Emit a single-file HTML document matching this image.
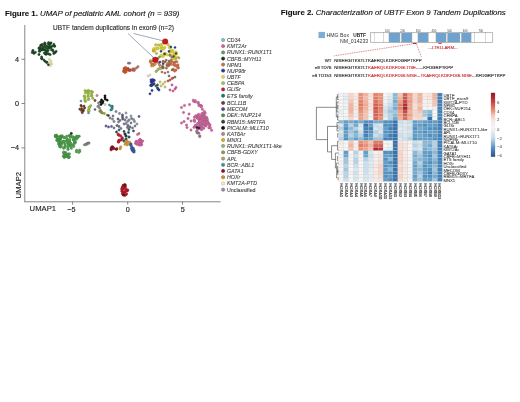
<!DOCTYPE html>
<html><head><meta charset="utf-8"><style>
html,body{margin:0;padding:0;background:#fff;width:520px;height:402px;overflow:hidden}
svg{display:block;font-family:"Liberation Sans",sans-serif;filter:blur(0.3px)}
</style></head><body>
<svg width="520" height="402" viewBox="0 0 520 402">
<g>
<circle cx="44.5" cy="44.2" r="1.12" fill="#1f4a26" stroke="#18391d" stroke-width="0.35"/>
<circle cx="50.6" cy="43.2" r="1.12" fill="#1f4a26" stroke="#18391d" stroke-width="0.35"/>
<circle cx="48.5" cy="47.0" r="1.12" fill="#1f4a26" stroke="#18391d" stroke-width="0.35"/>
<circle cx="39.6" cy="48.9" r="1.12" fill="#1f4a26" stroke="#18391d" stroke-width="0.35"/>
<circle cx="39.2" cy="47.9" r="1.12" fill="#1f4a26" stroke="#18391d" stroke-width="0.35"/>
<circle cx="46.4" cy="53.1" r="1.12" fill="#1f4a26" stroke="#18391d" stroke-width="0.35"/>
<circle cx="40.8" cy="45.1" r="1.12" fill="#1f4a26" stroke="#18391d" stroke-width="0.35"/>
<circle cx="50.2" cy="54.7" r="1.12" fill="#1f4a26" stroke="#18391d" stroke-width="0.35"/>
<circle cx="49.2" cy="47.4" r="1.12" fill="#1f4a26" stroke="#18391d" stroke-width="0.35"/>
<circle cx="54.5" cy="46.0" r="1.12" fill="#1f4a26" stroke="#18391d" stroke-width="0.35"/>
<circle cx="44.2" cy="53.0" r="1.12" fill="#1f4a26" stroke="#18391d" stroke-width="0.35"/>
<circle cx="41.9" cy="49.9" r="1.12" fill="#1f4a26" stroke="#18391d" stroke-width="0.35"/>
<circle cx="50.4" cy="47.1" r="1.12" fill="#1f4a26" stroke="#18391d" stroke-width="0.35"/>
<circle cx="48.7" cy="43.0" r="1.12" fill="#1f4a26" stroke="#18391d" stroke-width="0.35"/>
<circle cx="51.2" cy="47.8" r="1.12" fill="#1f4a26" stroke="#18391d" stroke-width="0.35"/>
<circle cx="44.3" cy="49.9" r="1.12" fill="#1f4a26" stroke="#18391d" stroke-width="0.35"/>
<circle cx="46.9" cy="46.2" r="1.12" fill="#1f4a26" stroke="#18391d" stroke-width="0.35"/>
<circle cx="53.3" cy="51.4" r="1.12" fill="#1f4a26" stroke="#18391d" stroke-width="0.35"/>
<circle cx="43.0" cy="49.8" r="1.12" fill="#1f4a26" stroke="#18391d" stroke-width="0.35"/>
<circle cx="48.3" cy="53.8" r="1.12" fill="#1f4a26" stroke="#18391d" stroke-width="0.35"/>
<circle cx="52.1" cy="46.0" r="1.12" fill="#1f4a26" stroke="#18391d" stroke-width="0.35"/>
<circle cx="46.3" cy="52.2" r="1.12" fill="#1f4a26" stroke="#18391d" stroke-width="0.35"/>
<circle cx="41.3" cy="48.7" r="1.12" fill="#1f4a26" stroke="#18391d" stroke-width="0.35"/>
<circle cx="39.2" cy="51.0" r="1.12" fill="#1f4a26" stroke="#18391d" stroke-width="0.35"/>
<circle cx="52.7" cy="49.8" r="1.12" fill="#1f4a26" stroke="#18391d" stroke-width="0.35"/>
<circle cx="54.8" cy="46.3" r="1.12" fill="#1f4a26" stroke="#18391d" stroke-width="0.35"/>
<circle cx="51.4" cy="50.0" r="1.12" fill="#1f4a26" stroke="#18391d" stroke-width="0.35"/>
<circle cx="49.3" cy="48.2" r="1.12" fill="#1f4a26" stroke="#18391d" stroke-width="0.35"/>
<circle cx="47.3" cy="51.0" r="1.12" fill="#1f4a26" stroke="#18391d" stroke-width="0.35"/>
<circle cx="39.6" cy="51.5" r="1.12" fill="#1f4a26" stroke="#18391d" stroke-width="0.35"/>
<circle cx="53.8" cy="46.0" r="1.12" fill="#1f4a26" stroke="#18391d" stroke-width="0.35"/>
<circle cx="45.7" cy="51.0" r="1.12" fill="#1f4a26" stroke="#18391d" stroke-width="0.35"/>
<circle cx="38.9" cy="48.3" r="1.12" fill="#1f4a26" stroke="#18391d" stroke-width="0.35"/>
<circle cx="40.9" cy="45.5" r="1.12" fill="#1f4a26" stroke="#18391d" stroke-width="0.35"/>
<circle cx="45.8" cy="53.7" r="1.12" fill="#1f4a26" stroke="#18391d" stroke-width="0.35"/>
<circle cx="40.0" cy="48.1" r="1.12" fill="#1f4a26" stroke="#18391d" stroke-width="0.35"/>
<circle cx="48.7" cy="53.9" r="1.12" fill="#1f4a26" stroke="#18391d" stroke-width="0.35"/>
<circle cx="53.7" cy="53.6" r="1.12" fill="#1f4a26" stroke="#18391d" stroke-width="0.35"/>
<circle cx="43.7" cy="47.7" r="1.12" fill="#1f4a26" stroke="#18391d" stroke-width="0.35"/>
<circle cx="45.2" cy="53.9" r="1.12" fill="#1f4a26" stroke="#18391d" stroke-width="0.35"/>
<circle cx="41.8" cy="45.3" r="1.12" fill="#1f4a26" stroke="#18391d" stroke-width="0.35"/>
<circle cx="42.8" cy="48.6" r="1.12" fill="#1f4a26" stroke="#18391d" stroke-width="0.35"/>
<circle cx="49.5" cy="45.7" r="1.12" fill="#1f4a26" stroke="#18391d" stroke-width="0.35"/>
<circle cx="45.4" cy="49.7" r="1.12" fill="#1f4a26" stroke="#18391d" stroke-width="0.35"/>
<circle cx="56.2" cy="51.3" r="1.12" fill="#1f4a26" stroke="#18391d" stroke-width="0.35"/>
<circle cx="48.1" cy="50.4" r="1.12" fill="#1f4a26" stroke="#18391d" stroke-width="0.35"/>
<circle cx="51.1" cy="42.9" r="1.12" fill="#1f4a26" stroke="#18391d" stroke-width="0.35"/>
<circle cx="55.2" cy="52.5" r="1.12" fill="#1f4a26" stroke="#18391d" stroke-width="0.35"/>
<circle cx="54.8" cy="52.7" r="1.12" fill="#1f4a26" stroke="#18391d" stroke-width="0.35"/>
<circle cx="45.8" cy="47.5" r="1.12" fill="#1f4a26" stroke="#18391d" stroke-width="0.35"/>
<circle cx="40.4" cy="50.6" r="1.12" fill="#1f4a26" stroke="#18391d" stroke-width="0.35"/>
<circle cx="42.4" cy="44.3" r="1.12" fill="#1f4a26" stroke="#18391d" stroke-width="0.35"/>
<circle cx="44.8" cy="42.9" r="1.12" fill="#1f4a26" stroke="#18391d" stroke-width="0.35"/>
<circle cx="40.4" cy="47.0" r="1.12" fill="#1f4a26" stroke="#18391d" stroke-width="0.35"/>
<circle cx="49.9" cy="44.2" r="1.12" fill="#1f4a26" stroke="#18391d" stroke-width="0.35"/>
<circle cx="43.2" cy="46.8" r="1.12" fill="#1f4a26" stroke="#18391d" stroke-width="0.35"/>
<circle cx="45.3" cy="43.8" r="1.12" fill="#1f4a26" stroke="#18391d" stroke-width="0.35"/>
<circle cx="47.2" cy="48.6" r="1.12" fill="#1f4a26" stroke="#18391d" stroke-width="0.35"/>
<circle cx="44.9" cy="45.7" r="1.12" fill="#1f4a26" stroke="#18391d" stroke-width="0.35"/>
<circle cx="53.9" cy="44.3" r="1.12" fill="#1f4a26" stroke="#18391d" stroke-width="0.35"/>
<circle cx="48.3" cy="44.1" r="1.12" fill="#1f4a26" stroke="#18391d" stroke-width="0.35"/>
<circle cx="48.6" cy="42.6" r="1.12" fill="#1f4a26" stroke="#18391d" stroke-width="0.35"/>
<circle cx="33.9" cy="53.4" r="1.12" fill="#1f4a26" stroke="#18391d" stroke-width="0.35"/>
<circle cx="35.5" cy="52.3" r="1.12" fill="#1f4a26" stroke="#18391d" stroke-width="0.35"/>
<circle cx="32.7" cy="51.0" r="1.12" fill="#1f4a26" stroke="#18391d" stroke-width="0.35"/>
<circle cx="32.2" cy="52.6" r="1.12" fill="#1f4a26" stroke="#18391d" stroke-width="0.35"/>
<circle cx="34.0" cy="52.6" r="1.12" fill="#1f4a26" stroke="#18391d" stroke-width="0.35"/>
<circle cx="33.0" cy="50.4" r="1.12" fill="#1f4a26" stroke="#18391d" stroke-width="0.35"/>
<circle cx="39.0" cy="54.5" r="1.2" fill="#1f4a26" stroke="#18391d" stroke-width="0.35"/>
<circle cx="46.2" cy="54.2" r="1.2" fill="#1f4a26" stroke="#18391d" stroke-width="0.35"/>
<circle cx="46.6" cy="62.4" r="1.1" fill="#1f4a26" stroke="#18391d" stroke-width="0.35"/>
<circle cx="46.2" cy="62.0" r="1.1" fill="#1f4a26" stroke="#18391d" stroke-width="0.35"/>
<circle cx="41.6" cy="58.6" r="1.1" fill="#1f4a26" stroke="#18391d" stroke-width="0.35"/>
<circle cx="41.6" cy="56.8" r="1.1" fill="#1f4a26" stroke="#18391d" stroke-width="0.35"/>
<circle cx="41.7" cy="58.3" r="1.1" fill="#1f4a26" stroke="#18391d" stroke-width="0.35"/>
<circle cx="43.9" cy="60.1" r="1.1" fill="#1f4a26" stroke="#18391d" stroke-width="0.35"/>
<circle cx="47.2" cy="62.3" r="1.1" fill="#1f4a26" stroke="#18391d" stroke-width="0.35"/>
<circle cx="42.0" cy="58.8" r="1.1" fill="#1f4a26" stroke="#18391d" stroke-width="0.35"/>
<circle cx="44.9" cy="61.2" r="1.1" fill="#1f4a26" stroke="#18391d" stroke-width="0.35"/>
<circle cx="49.5" cy="59.5" r="1.15" fill="#e2e0a0" stroke="#b0ae7c" stroke-width="0.35"/>
<circle cx="51.0" cy="61.5" r="1.15" fill="#e2e0a0" stroke="#b0ae7c" stroke-width="0.35"/>
<circle cx="49.3" cy="63.3" r="1.15" fill="#e2e0a0" stroke="#b0ae7c" stroke-width="0.35"/>
<circle cx="50.2" cy="65.6" r="1.15" fill="#e2e0a0" stroke="#b0ae7c" stroke-width="0.35"/>
<circle cx="51.5" cy="64.0" r="1.15" fill="#e2e0a0" stroke="#b0ae7c" stroke-width="0.35"/>
<circle cx="48.3" cy="64.8" r="1.1" fill="#2a3a2a" stroke="#202d20" stroke-width="0.35"/>
<circle cx="88.2" cy="90.5" r="1.15" fill="#9dbd45" stroke="#7a9335" stroke-width="0.35"/>
<circle cx="84.9" cy="90.6" r="1.15" fill="#9dbd45" stroke="#7a9335" stroke-width="0.35"/>
<circle cx="91.3" cy="91.3" r="1.15" fill="#9dbd45" stroke="#7a9335" stroke-width="0.35"/>
<circle cx="86.6" cy="91.2" r="1.15" fill="#9dbd45" stroke="#7a9335" stroke-width="0.35"/>
<circle cx="92.1" cy="92.0" r="1.15" fill="#9dbd45" stroke="#7a9335" stroke-width="0.35"/>
<circle cx="89.3" cy="91.2" r="1.15" fill="#9dbd45" stroke="#7a9335" stroke-width="0.35"/>
<circle cx="86.7" cy="92.1" r="1.15" fill="#9dbd45" stroke="#7a9335" stroke-width="0.35"/>
<circle cx="92.4" cy="91.9" r="1.15" fill="#9dbd45" stroke="#7a9335" stroke-width="0.35"/>
<circle cx="85.7" cy="101.2" r="1.15" fill="#9dbd45" stroke="#7a9335" stroke-width="0.35"/>
<circle cx="84.2" cy="96.4" r="1.15" fill="#9dbd45" stroke="#7a9335" stroke-width="0.35"/>
<circle cx="85.4" cy="93.0" r="1.15" fill="#9dbd45" stroke="#7a9335" stroke-width="0.35"/>
<circle cx="85.1" cy="98.0" r="1.15" fill="#9dbd45" stroke="#7a9335" stroke-width="0.35"/>
<circle cx="85.1" cy="101.4" r="1.15" fill="#9dbd45" stroke="#7a9335" stroke-width="0.35"/>
<circle cx="84.4" cy="96.0" r="1.15" fill="#9dbd45" stroke="#7a9335" stroke-width="0.35"/>
<circle cx="84.6" cy="99.5" r="1.15" fill="#9dbd45" stroke="#7a9335" stroke-width="0.35"/>
<circle cx="87.8" cy="96.2" r="1.15" fill="#9dbd45" stroke="#7a9335" stroke-width="0.35"/>
<circle cx="88.9" cy="99.3" r="1.15" fill="#9dbd45" stroke="#7a9335" stroke-width="0.35"/>
<circle cx="88.1" cy="99.4" r="1.15" fill="#9dbd45" stroke="#7a9335" stroke-width="0.35"/>
<circle cx="88.5" cy="96.7" r="1.15" fill="#9dbd45" stroke="#7a9335" stroke-width="0.35"/>
<circle cx="88.6" cy="93.1" r="1.15" fill="#9dbd45" stroke="#7a9335" stroke-width="0.35"/>
<circle cx="88.2" cy="94.3" r="1.15" fill="#9dbd45" stroke="#7a9335" stroke-width="0.35"/>
<circle cx="91.6" cy="93.7" r="1.2" fill="#9dbd45" stroke="#7a9335" stroke-width="0.35"/>
<circle cx="91.9" cy="95.7" r="1.2" fill="#9dbd45" stroke="#7a9335" stroke-width="0.35"/>
<circle cx="91.2" cy="95.6" r="1.2" fill="#9dbd45" stroke="#7a9335" stroke-width="0.35"/>
<circle cx="92.8" cy="98.3" r="1.2" fill="#9dbd45" stroke="#7a9335" stroke-width="0.35"/>
<circle cx="89.7" cy="106.9" r="1.2" fill="#a4c050" stroke="#7f953e" stroke-width="0.35"/>
<circle cx="89.2" cy="107.4" r="1.2" fill="#a4c050" stroke="#7f953e" stroke-width="0.35"/>
<circle cx="88.5" cy="110.7" r="1.2" fill="#a4c050" stroke="#7f953e" stroke-width="0.35"/>
<circle cx="89.2" cy="107.7" r="1.2" fill="#a4c050" stroke="#7f953e" stroke-width="0.35"/>
<circle cx="89.1" cy="107.2" r="1.2" fill="#a4c050" stroke="#7f953e" stroke-width="0.35"/>
<circle cx="88.6" cy="109.7" r="1.2" fill="#a4c050" stroke="#7f953e" stroke-width="0.35"/>
<circle cx="88.9" cy="111.3" r="1.2" fill="#a4c050" stroke="#7f953e" stroke-width="0.35"/>
<circle cx="89.1" cy="110.4" r="1.2" fill="#a4c050" stroke="#7f953e" stroke-width="0.35"/>
<circle cx="90.8" cy="105.6" r="1.2" fill="#a4c050" stroke="#7f953e" stroke-width="0.35"/>
<circle cx="81.0" cy="101.0" r="1.1" fill="#7a88a8" stroke="#5f6a83" stroke-width="0.35"/>
<circle cx="88.5" cy="113.0" r="1.1" fill="#7a88a8" stroke="#5f6a83" stroke-width="0.35"/>
<circle cx="81.0" cy="105.4" r="1.15" fill="#6e3a26" stroke="#552d1d" stroke-width="0.35"/>
<circle cx="83.2" cy="111.1" r="1.15" fill="#6e3a26" stroke="#552d1d" stroke-width="0.35"/>
<circle cx="83.4" cy="110.1" r="1.15" fill="#6e3a26" stroke="#552d1d" stroke-width="0.35"/>
<circle cx="84.7" cy="108.0" r="1.15" fill="#6e3a26" stroke="#552d1d" stroke-width="0.35"/>
<circle cx="82.2" cy="112.7" r="1.15" fill="#6e3a26" stroke="#552d1d" stroke-width="0.35"/>
<circle cx="84.0" cy="106.1" r="1.15" fill="#6e3a26" stroke="#552d1d" stroke-width="0.35"/>
<circle cx="81.9" cy="108.9" r="1.15" fill="#6e3a26" stroke="#552d1d" stroke-width="0.35"/>
<circle cx="81.5" cy="106.4" r="1.15" fill="#6e3a26" stroke="#552d1d" stroke-width="0.35"/>
<circle cx="81.4" cy="110.6" r="1.15" fill="#6e3a26" stroke="#552d1d" stroke-width="0.35"/>
<circle cx="79.8" cy="109.2" r="1.15" fill="#6e3a26" stroke="#552d1d" stroke-width="0.35"/>
<circle cx="97.0" cy="95.5" r="1.2" fill="#c08898" stroke="#956a76" stroke-width="0.35"/>
<circle cx="95.0" cy="100.5" r="1.2" fill="#7a5040" stroke="#5f3e31" stroke-width="0.35"/>
<circle cx="105.0" cy="95.8" r="1.15" fill="#111" stroke="#0d0d0d" stroke-width="0.35"/>
<circle cx="105.0" cy="97.5" r="1.15" fill="#111" stroke="#0d0d0d" stroke-width="0.35"/>
<circle cx="105.2" cy="99.2" r="1.15" fill="#111" stroke="#0d0d0d" stroke-width="0.35"/>
<circle cx="107.2" cy="100.2" r="1.15" fill="#111" stroke="#0d0d0d" stroke-width="0.35"/>
<circle cx="101.5" cy="100.0" r="1.15" fill="#111" stroke="#0d0d0d" stroke-width="0.35"/>
<circle cx="100.5" cy="102.0" r="1.15" fill="#111" stroke="#0d0d0d" stroke-width="0.35"/>
<circle cx="102.5" cy="103.0" r="1.15" fill="#111" stroke="#0d0d0d" stroke-width="0.35"/>
<circle cx="101.0" cy="104.5" r="1.15" fill="#111" stroke="#0d0d0d" stroke-width="0.35"/>
<circle cx="103.0" cy="101.5" r="1.15" fill="#111" stroke="#0d0d0d" stroke-width="0.35"/>
<circle cx="98.5" cy="103.0" r="1.15" fill="#8a8a88" stroke="#6b6b6a" stroke-width="0.35"/>
<circle cx="99.0" cy="105.5" r="1.15" fill="#8a8a88" stroke="#6b6b6a" stroke-width="0.35"/>
<circle cx="99.5" cy="108.0" r="1.15" fill="#8a8a88" stroke="#6b6b6a" stroke-width="0.35"/>
<circle cx="100.5" cy="110.5" r="1.15" fill="#8a8a88" stroke="#6b6b6a" stroke-width="0.35"/>
<circle cx="97.8" cy="106.5" r="1.15" fill="#8a8a88" stroke="#6b6b6a" stroke-width="0.35"/>
<circle cx="105.0" cy="104.5" r="1.2" fill="#d8d0b0" stroke="#a8a289" stroke-width="0.35"/>
<circle cx="112.1" cy="106.7" r="1.1" fill="#2a8a8c" stroke="#206b6d" stroke-width="0.35"/>
<circle cx="112.3" cy="108.2" r="1.1" fill="#2a8a8c" stroke="#206b6d" stroke-width="0.35"/>
<circle cx="110.8" cy="109.9" r="1.1" fill="#2a8a8c" stroke="#206b6d" stroke-width="0.35"/>
<circle cx="109.4" cy="105.0" r="1.1" fill="#2a8a8c" stroke="#206b6d" stroke-width="0.35"/>
<circle cx="111.7" cy="109.6" r="1.1" fill="#2a8a8c" stroke="#206b6d" stroke-width="0.35"/>
<circle cx="112.3" cy="106.1" r="1.1" fill="#2a8a8c" stroke="#206b6d" stroke-width="0.35"/>
<circle cx="111.2" cy="106.3" r="1.1" fill="#2a8a8c" stroke="#206b6d" stroke-width="0.35"/>
<circle cx="104.3" cy="113.5" r="1.15" fill="#8a9a4a" stroke="#6b7839" stroke-width="0.35"/>
<circle cx="99.8" cy="111.2" r="1.15" fill="#8a9a4a" stroke="#6b7839" stroke-width="0.35"/>
<circle cx="100.8" cy="111.5" r="1.15" fill="#8a9a4a" stroke="#6b7839" stroke-width="0.35"/>
<circle cx="107.2" cy="115.2" r="1.15" fill="#8a9a4a" stroke="#6b7839" stroke-width="0.35"/>
<circle cx="100.4" cy="111.3" r="1.15" fill="#8a9a4a" stroke="#6b7839" stroke-width="0.35"/>
<circle cx="101.3" cy="112.4" r="1.15" fill="#8a9a4a" stroke="#6b7839" stroke-width="0.35"/>
<circle cx="102.2" cy="112.9" r="1.15" fill="#8a9a4a" stroke="#6b7839" stroke-width="0.35"/>
<circle cx="101.8" cy="112.6" r="1.15" fill="#8a9a4a" stroke="#6b7839" stroke-width="0.35"/>
<circle cx="108.5" cy="115.5" r="1.1" fill="#2a3a2a" stroke="#202d20" stroke-width="0.35"/>
<circle cx="95.0" cy="109.5" r="1.1" fill="#6a5a9a" stroke="#524678" stroke-width="0.35"/>
<circle cx="116.0" cy="111.5" r="1.2" fill="#8a8a90" stroke="#6b6b70" stroke-width="0.35"/>
<circle cx="110.0" cy="118.0" r="1.2" fill="#8a8a90" stroke="#6b6b70" stroke-width="0.35"/>
<circle cx="112.5" cy="119.0" r="1.2" fill="#8a8a90" stroke="#6b6b70" stroke-width="0.35"/>
<circle cx="114.0" cy="121.5" r="1.2" fill="#8a8a90" stroke="#6b6b70" stroke-width="0.35"/>
<circle cx="118.5" cy="122.0" r="1.2" fill="#8a8a90" stroke="#6b6b70" stroke-width="0.35"/>
<circle cx="125.0" cy="120.0" r="1.2" fill="#8a8a90" stroke="#6b6b70" stroke-width="0.35"/>
<circle cx="127.5" cy="121.5" r="1.2" fill="#8a8a90" stroke="#6b6b70" stroke-width="0.35"/>
<circle cx="126.0" cy="123.5" r="1.2" fill="#8a8a90" stroke="#6b6b70" stroke-width="0.35"/>
<circle cx="129.0" cy="120.0" r="1.2" fill="#8a8a90" stroke="#6b6b70" stroke-width="0.35"/>
<circle cx="133.5" cy="119.5" r="1.2" fill="#8a8a90" stroke="#6b6b70" stroke-width="0.35"/>
<circle cx="134.5" cy="121.5" r="1.2" fill="#8a8a90" stroke="#6b6b70" stroke-width="0.35"/>
<circle cx="122.5" cy="115.0" r="1.2" fill="#5a6070" stroke="#464a57" stroke-width="0.35"/>
<circle cx="122.5" cy="117.0" r="1.2" fill="#5a6070" stroke="#464a57" stroke-width="0.35"/>
<circle cx="122.8" cy="119.0" r="1.2" fill="#5a6070" stroke="#464a57" stroke-width="0.35"/>
<circle cx="117.0" cy="125.5" r="1.2" fill="#6a7088" stroke="#52576a" stroke-width="0.35"/>
<circle cx="119.0" cy="126.5" r="1.2" fill="#6a7088" stroke="#52576a" stroke-width="0.35"/>
<circle cx="128.0" cy="125.5" r="1.2" fill="#6a7088" stroke="#52576a" stroke-width="0.35"/>
<circle cx="130.0" cy="127.0" r="1.2" fill="#6a7088" stroke="#52576a" stroke-width="0.35"/>
<circle cx="127.5" cy="127.5" r="1.2" fill="#6a7088" stroke="#52576a" stroke-width="0.35"/>
<circle cx="106.0" cy="126.0" r="1.15" fill="#6a5a9a" stroke="#524678" stroke-width="0.35"/>
<circle cx="108.5" cy="127.0" r="1.15" fill="#6a5a9a" stroke="#524678" stroke-width="0.35"/>
<circle cx="111.5" cy="126.5" r="1.15" fill="#6a5a9a" stroke="#524678" stroke-width="0.35"/>
<circle cx="139.0" cy="116.5" r="1.15" fill="#6a5a9a" stroke="#524678" stroke-width="0.35"/>
<circle cx="118.0" cy="119.0" r="1.15" fill="#6a5a9a" stroke="#524678" stroke-width="0.35"/>
<circle cx="126.0" cy="113.0" r="1.15" fill="#9a9aa8" stroke="#787883" stroke-width="0.35"/>
<circle cx="131.0" cy="116.0" r="1.15" fill="#9a9aa8" stroke="#787883" stroke-width="0.35"/>
<circle cx="137.0" cy="124.0" r="1.15" fill="#9a9aa8" stroke="#787883" stroke-width="0.35"/>
<circle cx="116.5" cy="132.0" r="1.15" fill="#1e4a4a" stroke="#173939" stroke-width="0.35"/>
<circle cx="124.0" cy="131.5" r="1.15" fill="#1e4a4a" stroke="#173939" stroke-width="0.35"/>
<circle cx="128.5" cy="132.5" r="1.15" fill="#1e4a4a" stroke="#173939" stroke-width="0.35"/>
<circle cx="139.0" cy="133.5" r="1.15" fill="#d06a80" stroke="#a25263" stroke-width="0.35"/>
<circle cx="137.5" cy="134.5" r="1.15" fill="#d06a80" stroke="#a25263" stroke-width="0.35"/>
<circle cx="113.0" cy="116.0" r="1.15" fill="#7a8090" stroke="#5f6370" stroke-width="0.35"/>
<circle cx="119.5" cy="113.5" r="1.15" fill="#7a8090" stroke="#5f6370" stroke-width="0.35"/>
<circle cx="124.0" cy="124.0" r="1.15" fill="#7a8090" stroke="#5f6370" stroke-width="0.35"/>
<circle cx="131.0" cy="123.0" r="1.15" fill="#7a8090" stroke="#5f6370" stroke-width="0.35"/>
<circle cx="121.0" cy="128.5" r="1.15" fill="#7a8090" stroke="#5f6370" stroke-width="0.35"/>
<circle cx="114.0" cy="128.0" r="1.15" fill="#7a8090" stroke="#5f6370" stroke-width="0.35"/>
<circle cx="132.5" cy="128.0" r="1.15" fill="#7a8090" stroke="#5f6370" stroke-width="0.35"/>
<circle cx="135.0" cy="126.0" r="1.15" fill="#7a8090" stroke="#5f6370" stroke-width="0.35"/>
<circle cx="126.5" cy="117.5" r="1.15" fill="#6a7aa0" stroke="#525f7c" stroke-width="0.35"/>
<circle cx="131.5" cy="118.5" r="1.15" fill="#6a7aa0" stroke="#525f7c" stroke-width="0.35"/>
<circle cx="120.0" cy="120.5" r="1.15" fill="#6a7aa0" stroke="#525f7c" stroke-width="0.35"/>
<circle cx="129.0" cy="129.5" r="1.15" fill="#4a5a6a" stroke="#394652" stroke-width="0.35"/>
<circle cx="119.0" cy="130.0" r="1.15" fill="#4a5a6a" stroke="#394652" stroke-width="0.35"/>
<circle cx="133.5" cy="131.0" r="1.15" fill="#4a5a6a" stroke="#394652" stroke-width="0.35"/>
<circle cx="118.6" cy="135.1" r="1.3" fill="#c01e34" stroke="#951728" stroke-width="0.35"/>
<circle cx="120.6" cy="135.9" r="1.3" fill="#c01e34" stroke="#951728" stroke-width="0.35"/>
<circle cx="122.1" cy="139.0" r="1.3" fill="#c01e34" stroke="#951728" stroke-width="0.35"/>
<circle cx="118.2" cy="134.3" r="1.3" fill="#c01e34" stroke="#951728" stroke-width="0.35"/>
<circle cx="119.5" cy="140.3" r="1.3" fill="#c01e34" stroke="#951728" stroke-width="0.35"/>
<circle cx="122.3" cy="137.9" r="1.3" fill="#c01e34" stroke="#951728" stroke-width="0.35"/>
<circle cx="118.5" cy="141.7" r="1.3" fill="#c01e34" stroke="#951728" stroke-width="0.35"/>
<circle cx="118.5" cy="142.0" r="1.3" fill="#c01e34" stroke="#951728" stroke-width="0.35"/>
<circle cx="121.1" cy="140.0" r="1.3" fill="#c01e34" stroke="#951728" stroke-width="0.35"/>
<circle cx="119.0" cy="140.3" r="1.3" fill="#c01e34" stroke="#951728" stroke-width="0.35"/>
<circle cx="126.0" cy="136.0" r="1.3" fill="#1e3a3a" stroke="#172d2d" stroke-width="0.35"/>
<circle cx="125.0" cy="134.0" r="1.3" fill="#1e3a3a" stroke="#172d2d" stroke-width="0.35"/>
<circle cx="126.0" cy="139.0" r="1.3" fill="#2a5a6a" stroke="#204652" stroke-width="0.35"/>
<circle cx="129.0" cy="137.0" r="1.3" fill="#2a5a6a" stroke="#204652" stroke-width="0.35"/>
<circle cx="124.0" cy="141.0" r="1.3" fill="#2a5a6a" stroke="#204652" stroke-width="0.35"/>
<circle cx="113.2" cy="147.8" r="1.3" fill="#8a1a28" stroke="#6b141f" stroke-width="0.35"/>
<circle cx="111.1" cy="149.7" r="1.3" fill="#8a1a28" stroke="#6b141f" stroke-width="0.35"/>
<circle cx="112.2" cy="146.9" r="1.3" fill="#8a1a28" stroke="#6b141f" stroke-width="0.35"/>
<circle cx="116.2" cy="149.3" r="1.3" fill="#8a1a28" stroke="#6b141f" stroke-width="0.35"/>
<circle cx="112.4" cy="147.3" r="1.3" fill="#8a1a28" stroke="#6b141f" stroke-width="0.35"/>
<circle cx="112.5" cy="148.3" r="1.3" fill="#8a1a28" stroke="#6b141f" stroke-width="0.35"/>
<circle cx="111.6" cy="148.2" r="1.3" fill="#8a1a28" stroke="#6b141f" stroke-width="0.35"/>
<circle cx="116.8" cy="148.7" r="1.3" fill="#8a1a28" stroke="#6b141f" stroke-width="0.35"/>
<circle cx="112.6" cy="147.8" r="1.3" fill="#8a1a28" stroke="#6b141f" stroke-width="0.35"/>
<circle cx="113.6" cy="148.5" r="1.3" fill="#8a1a28" stroke="#6b141f" stroke-width="0.35"/>
<circle cx="111.9" cy="148.5" r="1.3" fill="#8a1a28" stroke="#6b141f" stroke-width="0.35"/>
<circle cx="111.2" cy="148.0" r="1.3" fill="#8a1a28" stroke="#6b141f" stroke-width="0.35"/>
<circle cx="120.1" cy="148.8" r="1.3" fill="#d49a3a" stroke="#a5782d" stroke-width="0.35"/>
<circle cx="120.7" cy="147.0" r="1.3" fill="#d49a3a" stroke="#a5782d" stroke-width="0.35"/>
<circle cx="126.0" cy="142.2" r="1.3" fill="#d49a3a" stroke="#a5782d" stroke-width="0.35"/>
<circle cx="127.4" cy="142.6" r="1.3" fill="#d49a3a" stroke="#a5782d" stroke-width="0.35"/>
<circle cx="129.6" cy="142.2" r="1.3" fill="#d49a3a" stroke="#a5782d" stroke-width="0.35"/>
<circle cx="127.2" cy="144.7" r="1.3" fill="#d49a3a" stroke="#a5782d" stroke-width="0.35"/>
<circle cx="127.1" cy="141.1" r="1.3" fill="#d49a3a" stroke="#a5782d" stroke-width="0.35"/>
<circle cx="127.9" cy="143.5" r="1.3" fill="#d49a3a" stroke="#a5782d" stroke-width="0.35"/>
<circle cx="125.2" cy="144.3" r="1.3" fill="#d49a3a" stroke="#a5782d" stroke-width="0.35"/>
<circle cx="126.0" cy="141.7" r="1.3" fill="#d49a3a" stroke="#a5782d" stroke-width="0.35"/>
<circle cx="132.6" cy="149.3" r="1.3" fill="#3c5aa0" stroke="#2e467c" stroke-width="0.35"/>
<circle cx="130.6" cy="144.8" r="1.3" fill="#3c5aa0" stroke="#2e467c" stroke-width="0.35"/>
<circle cx="130.9" cy="144.1" r="1.3" fill="#3c5aa0" stroke="#2e467c" stroke-width="0.35"/>
<circle cx="131.6" cy="148.6" r="1.3" fill="#3c5aa0" stroke="#2e467c" stroke-width="0.35"/>
<circle cx="133.2" cy="148.4" r="1.3" fill="#3c5aa0" stroke="#2e467c" stroke-width="0.35"/>
<circle cx="132.3" cy="150.3" r="1.3" fill="#3c5aa0" stroke="#2e467c" stroke-width="0.35"/>
<circle cx="133.9" cy="150.2" r="1.3" fill="#3c5aa0" stroke="#2e467c" stroke-width="0.35"/>
<circle cx="131.5" cy="146.5" r="1.3" fill="#3c5aa0" stroke="#2e467c" stroke-width="0.35"/>
<circle cx="133.5" cy="151.4" r="1.3" fill="#3c5aa0" stroke="#2e467c" stroke-width="0.35"/>
<circle cx="134.0" cy="151.9" r="1.3" fill="#3c5aa0" stroke="#2e467c" stroke-width="0.35"/>
<circle cx="139.3" cy="145.0" r="1.3" fill="#d0609c" stroke="#a24a79" stroke-width="0.35"/>
<circle cx="141.6" cy="144.4" r="1.3" fill="#d0609c" stroke="#a24a79" stroke-width="0.35"/>
<circle cx="140.6" cy="140.1" r="1.3" fill="#d0609c" stroke="#a24a79" stroke-width="0.35"/>
<circle cx="136.7" cy="141.5" r="1.3" fill="#d0609c" stroke="#a24a79" stroke-width="0.35"/>
<circle cx="141.4" cy="141.9" r="1.3" fill="#d0609c" stroke="#a24a79" stroke-width="0.35"/>
<circle cx="140.0" cy="139.6" r="1.3" fill="#d0609c" stroke="#a24a79" stroke-width="0.35"/>
<circle cx="136.0" cy="141.7" r="1.3" fill="#d0609c" stroke="#a24a79" stroke-width="0.35"/>
<circle cx="140.9" cy="145.0" r="1.3" fill="#d0609c" stroke="#a24a79" stroke-width="0.35"/>
<circle cx="140.9" cy="141.8" r="1.3" fill="#d0609c" stroke="#a24a79" stroke-width="0.35"/>
<circle cx="139.6" cy="143.2" r="1.3" fill="#d0609c" stroke="#a24a79" stroke-width="0.35"/>
<circle cx="139.2" cy="140.4" r="1.3" fill="#d0609c" stroke="#a24a79" stroke-width="0.35"/>
<circle cx="142.6" cy="141.1" r="1.3" fill="#d0609c" stroke="#a24a79" stroke-width="0.35"/>
<circle cx="135.6" cy="143.2" r="1.3" fill="#d0609c" stroke="#a24a79" stroke-width="0.35"/>
<circle cx="139.1" cy="141.6" r="1.3" fill="#d0609c" stroke="#a24a79" stroke-width="0.35"/>
<circle cx="137.2" cy="144.2" r="1.3" fill="#d0609c" stroke="#a24a79" stroke-width="0.35"/>
<circle cx="136.6" cy="143.7" r="1.3" fill="#d0609c" stroke="#a24a79" stroke-width="0.35"/>
<circle cx="66.5" cy="156.3" r="1.2" fill="#52a452" stroke="#3f7f3f" stroke-width="0.35"/>
<circle cx="65.0" cy="147.2" r="1.2" fill="#52a452" stroke="#3f7f3f" stroke-width="0.35"/>
<circle cx="60.7" cy="142.4" r="1.2" fill="#52a452" stroke="#3f7f3f" stroke-width="0.35"/>
<circle cx="74.9" cy="138.3" r="1.2" fill="#52a452" stroke="#3f7f3f" stroke-width="0.35"/>
<circle cx="66.7" cy="136.1" r="1.2" fill="#52a452" stroke="#3f7f3f" stroke-width="0.35"/>
<circle cx="60.5" cy="147.1" r="1.2" fill="#52a452" stroke="#3f7f3f" stroke-width="0.35"/>
<circle cx="69.4" cy="142.8" r="1.2" fill="#52a452" stroke="#3f7f3f" stroke-width="0.35"/>
<circle cx="62.1" cy="143.6" r="1.2" fill="#52a452" stroke="#3f7f3f" stroke-width="0.35"/>
<circle cx="73.5" cy="139.6" r="1.2" fill="#52a452" stroke="#3f7f3f" stroke-width="0.35"/>
<circle cx="63.8" cy="153.4" r="1.2" fill="#52a452" stroke="#3f7f3f" stroke-width="0.35"/>
<circle cx="77.0" cy="138.8" r="1.2" fill="#52a452" stroke="#3f7f3f" stroke-width="0.35"/>
<circle cx="59.6" cy="142.1" r="1.2" fill="#52a452" stroke="#3f7f3f" stroke-width="0.35"/>
<circle cx="65.7" cy="152.5" r="1.2" fill="#52a452" stroke="#3f7f3f" stroke-width="0.35"/>
<circle cx="68.6" cy="145.0" r="1.2" fill="#52a452" stroke="#3f7f3f" stroke-width="0.35"/>
<circle cx="59.4" cy="145.1" r="1.2" fill="#52a452" stroke="#3f7f3f" stroke-width="0.35"/>
<circle cx="68.8" cy="145.8" r="1.2" fill="#52a452" stroke="#3f7f3f" stroke-width="0.35"/>
<circle cx="61.6" cy="136.5" r="1.2" fill="#52a452" stroke="#3f7f3f" stroke-width="0.35"/>
<circle cx="67.4" cy="155.6" r="1.2" fill="#52a452" stroke="#3f7f3f" stroke-width="0.35"/>
<circle cx="73.1" cy="137.3" r="1.2" fill="#52a452" stroke="#3f7f3f" stroke-width="0.35"/>
<circle cx="63.8" cy="141.8" r="1.2" fill="#52a452" stroke="#3f7f3f" stroke-width="0.35"/>
<circle cx="69.5" cy="140.2" r="1.2" fill="#52a452" stroke="#3f7f3f" stroke-width="0.35"/>
<circle cx="70.5" cy="136.7" r="1.2" fill="#52a452" stroke="#3f7f3f" stroke-width="0.35"/>
<circle cx="59.4" cy="139.7" r="1.2" fill="#52a452" stroke="#3f7f3f" stroke-width="0.35"/>
<circle cx="64.5" cy="137.5" r="1.2" fill="#52a452" stroke="#3f7f3f" stroke-width="0.35"/>
<circle cx="61.4" cy="146.1" r="1.2" fill="#52a452" stroke="#3f7f3f" stroke-width="0.35"/>
<circle cx="73.0" cy="136.9" r="1.2" fill="#52a452" stroke="#3f7f3f" stroke-width="0.35"/>
<circle cx="68.0" cy="148.7" r="1.2" fill="#52a452" stroke="#3f7f3f" stroke-width="0.35"/>
<circle cx="64.9" cy="144.0" r="1.2" fill="#52a452" stroke="#3f7f3f" stroke-width="0.35"/>
<circle cx="61.9" cy="136.5" r="1.2" fill="#52a452" stroke="#3f7f3f" stroke-width="0.35"/>
<circle cx="67.2" cy="156.5" r="1.2" fill="#52a452" stroke="#3f7f3f" stroke-width="0.35"/>
<circle cx="70.5" cy="143.9" r="1.2" fill="#52a452" stroke="#3f7f3f" stroke-width="0.35"/>
<circle cx="75.3" cy="142.1" r="1.2" fill="#52a452" stroke="#3f7f3f" stroke-width="0.35"/>
<circle cx="64.2" cy="153.1" r="1.2" fill="#52a452" stroke="#3f7f3f" stroke-width="0.35"/>
<circle cx="74.6" cy="143.0" r="1.2" fill="#52a452" stroke="#3f7f3f" stroke-width="0.35"/>
<circle cx="73.3" cy="145.2" r="1.2" fill="#52a452" stroke="#3f7f3f" stroke-width="0.35"/>
<circle cx="60.4" cy="139.1" r="1.2" fill="#52a452" stroke="#3f7f3f" stroke-width="0.35"/>
<circle cx="75.4" cy="138.1" r="1.2" fill="#52a452" stroke="#3f7f3f" stroke-width="0.35"/>
<circle cx="69.5" cy="140.9" r="1.2" fill="#52a452" stroke="#3f7f3f" stroke-width="0.35"/>
<circle cx="56.4" cy="135.2" r="1.2" fill="#52a452" stroke="#3f7f3f" stroke-width="0.35"/>
<circle cx="67.3" cy="138.9" r="1.2" fill="#52a452" stroke="#3f7f3f" stroke-width="0.35"/>
<circle cx="60.1" cy="137.4" r="1.2" fill="#52a452" stroke="#3f7f3f" stroke-width="0.35"/>
<circle cx="63.9" cy="137.6" r="1.2" fill="#52a452" stroke="#3f7f3f" stroke-width="0.35"/>
<circle cx="63.5" cy="141.6" r="1.2" fill="#52a452" stroke="#3f7f3f" stroke-width="0.35"/>
<circle cx="66.4" cy="138.2" r="1.2" fill="#52a452" stroke="#3f7f3f" stroke-width="0.35"/>
<circle cx="68.0" cy="149.6" r="1.2" fill="#52a452" stroke="#3f7f3f" stroke-width="0.35"/>
<circle cx="71.4" cy="148.3" r="1.2" fill="#52a452" stroke="#3f7f3f" stroke-width="0.35"/>
<circle cx="68.0" cy="143.7" r="1.2" fill="#52a452" stroke="#3f7f3f" stroke-width="0.35"/>
<circle cx="59.2" cy="141.9" r="1.2" fill="#52a452" stroke="#3f7f3f" stroke-width="0.35"/>
<circle cx="66.2" cy="156.4" r="1.2" fill="#52a452" stroke="#3f7f3f" stroke-width="0.35"/>
<circle cx="71.5" cy="144.6" r="1.2" fill="#52a452" stroke="#3f7f3f" stroke-width="0.35"/>
<circle cx="67.7" cy="154.3" r="1.2" fill="#52a452" stroke="#3f7f3f" stroke-width="0.35"/>
<circle cx="64.1" cy="141.4" r="1.2" fill="#52a452" stroke="#3f7f3f" stroke-width="0.35"/>
<circle cx="70.0" cy="146.3" r="1.2" fill="#52a452" stroke="#3f7f3f" stroke-width="0.35"/>
<circle cx="57.1" cy="138.8" r="1.2" fill="#52a452" stroke="#3f7f3f" stroke-width="0.35"/>
<circle cx="76.5" cy="136.4" r="1.2" fill="#52a452" stroke="#3f7f3f" stroke-width="0.35"/>
<circle cx="64.0" cy="152.4" r="1.2" fill="#52a452" stroke="#3f7f3f" stroke-width="0.35"/>
<circle cx="63.5" cy="148.0" r="1.2" fill="#52a452" stroke="#3f7f3f" stroke-width="0.35"/>
<circle cx="69.0" cy="135.6" r="1.2" fill="#52a452" stroke="#3f7f3f" stroke-width="0.35"/>
<circle cx="70.5" cy="137.4" r="1.2" fill="#52a452" stroke="#3f7f3f" stroke-width="0.35"/>
<circle cx="60.3" cy="138.7" r="1.2" fill="#52a452" stroke="#3f7f3f" stroke-width="0.35"/>
<circle cx="64.5" cy="153.4" r="1.2" fill="#52a452" stroke="#3f7f3f" stroke-width="0.35"/>
<circle cx="58.8" cy="138.9" r="1.2" fill="#52a452" stroke="#3f7f3f" stroke-width="0.35"/>
<circle cx="70.3" cy="143.3" r="1.2" fill="#52a452" stroke="#3f7f3f" stroke-width="0.35"/>
<circle cx="59.1" cy="141.9" r="1.2" fill="#52a452" stroke="#3f7f3f" stroke-width="0.35"/>
<circle cx="66.1" cy="141.1" r="1.2" fill="#52a452" stroke="#3f7f3f" stroke-width="0.35"/>
<circle cx="73.7" cy="146.5" r="1.2" fill="#52a452" stroke="#3f7f3f" stroke-width="0.35"/>
<circle cx="65.2" cy="154.2" r="1.2" fill="#52a452" stroke="#3f7f3f" stroke-width="0.35"/>
<circle cx="74.6" cy="137.7" r="1.2" fill="#52a452" stroke="#3f7f3f" stroke-width="0.35"/>
<circle cx="74.4" cy="143.1" r="1.2" fill="#52a452" stroke="#3f7f3f" stroke-width="0.35"/>
<circle cx="60.5" cy="141.3" r="1.2" fill="#52a452" stroke="#3f7f3f" stroke-width="0.35"/>
<circle cx="67.2" cy="142.7" r="1.2" fill="#52a452" stroke="#3f7f3f" stroke-width="0.35"/>
<circle cx="57.8" cy="136.8" r="1.2" fill="#52a452" stroke="#3f7f3f" stroke-width="0.35"/>
<circle cx="71.5" cy="145.7" r="1.2" fill="#52a452" stroke="#3f7f3f" stroke-width="0.35"/>
<circle cx="66.8" cy="140.9" r="1.2" fill="#52a452" stroke="#3f7f3f" stroke-width="0.35"/>
<circle cx="69.5" cy="135.9" r="1.2" fill="#52a452" stroke="#3f7f3f" stroke-width="0.35"/>
<circle cx="67.7" cy="146.6" r="1.2" fill="#52a452" stroke="#3f7f3f" stroke-width="0.35"/>
<circle cx="59.7" cy="143.7" r="1.2" fill="#52a452" stroke="#3f7f3f" stroke-width="0.35"/>
<circle cx="63.8" cy="148.0" r="1.2" fill="#52a452" stroke="#3f7f3f" stroke-width="0.35"/>
<circle cx="63.2" cy="141.3" r="1.2" fill="#52a452" stroke="#3f7f3f" stroke-width="0.35"/>
<circle cx="58.8" cy="142.3" r="1.2" fill="#52a452" stroke="#3f7f3f" stroke-width="0.35"/>
<circle cx="62.1" cy="135.8" r="1.2" fill="#52a452" stroke="#3f7f3f" stroke-width="0.35"/>
<circle cx="71.0" cy="143.5" r="1.2" fill="#52a452" stroke="#3f7f3f" stroke-width="0.35"/>
<circle cx="68.1" cy="141.7" r="1.2" fill="#52a452" stroke="#3f7f3f" stroke-width="0.35"/>
<circle cx="63.5" cy="137.2" r="1.2" fill="#52a452" stroke="#3f7f3f" stroke-width="0.35"/>
<circle cx="60.2" cy="136.1" r="1.2" fill="#52a452" stroke="#3f7f3f" stroke-width="0.35"/>
<circle cx="68.1" cy="145.6" r="1.2" fill="#52a452" stroke="#3f7f3f" stroke-width="0.35"/>
<circle cx="74.0" cy="140.5" r="1.2" fill="#52a452" stroke="#3f7f3f" stroke-width="0.35"/>
<circle cx="62.6" cy="141.6" r="1.2" fill="#52a452" stroke="#3f7f3f" stroke-width="0.35"/>
<circle cx="69.5" cy="140.5" r="1.2" fill="#52a452" stroke="#3f7f3f" stroke-width="0.35"/>
<circle cx="63.7" cy="151.9" r="1.2" fill="#52a452" stroke="#3f7f3f" stroke-width="0.35"/>
<circle cx="68.6" cy="154.0" r="1.2" fill="#52a452" stroke="#3f7f3f" stroke-width="0.35"/>
<circle cx="69.5" cy="153.9" r="1.2" fill="#52a452" stroke="#3f7f3f" stroke-width="0.35"/>
<circle cx="72.6" cy="136.9" r="1.2" fill="#52a452" stroke="#3f7f3f" stroke-width="0.35"/>
<circle cx="69.1" cy="140.1" r="1.2" fill="#52a452" stroke="#3f7f3f" stroke-width="0.35"/>
<circle cx="65.1" cy="145.4" r="1.2" fill="#52a452" stroke="#3f7f3f" stroke-width="0.35"/>
<circle cx="57.0" cy="136.3" r="1.2" fill="#469a46" stroke="#367836" stroke-width="0.35"/>
<circle cx="57.5" cy="140.4" r="1.2" fill="#469a46" stroke="#367836" stroke-width="0.35"/>
<circle cx="60.5" cy="136.9" r="1.2" fill="#469a46" stroke="#367836" stroke-width="0.35"/>
<circle cx="55.4" cy="136.0" r="1.2" fill="#469a46" stroke="#367836" stroke-width="0.35"/>
<circle cx="56.8" cy="140.2" r="1.2" fill="#469a46" stroke="#367836" stroke-width="0.35"/>
<circle cx="55.5" cy="136.7" r="1.2" fill="#469a46" stroke="#367836" stroke-width="0.35"/>
<circle cx="56.2" cy="135.6" r="1.2" fill="#469a46" stroke="#367836" stroke-width="0.35"/>
<circle cx="58.6" cy="143.9" r="1.2" fill="#469a46" stroke="#367836" stroke-width="0.35"/>
<circle cx="60.9" cy="137.5" r="1.2" fill="#469a46" stroke="#367836" stroke-width="0.35"/>
<circle cx="60.2" cy="136.9" r="1.2" fill="#469a46" stroke="#367836" stroke-width="0.35"/>
<circle cx="60.4" cy="143.7" r="1.2" fill="#469a46" stroke="#367836" stroke-width="0.35"/>
<circle cx="59.0" cy="140.1" r="1.2" fill="#469a46" stroke="#367836" stroke-width="0.35"/>
<circle cx="55.4" cy="135.4" r="1.2" fill="#469a46" stroke="#367836" stroke-width="0.35"/>
<circle cx="58.3" cy="140.1" r="1.2" fill="#469a46" stroke="#367836" stroke-width="0.35"/>
<circle cx="59.6" cy="146.5" r="1.2" fill="#469a46" stroke="#367836" stroke-width="0.35"/>
<circle cx="75.1" cy="143.0" r="1.2" fill="#4aa04a" stroke="#397c39" stroke-width="0.35"/>
<circle cx="77.5" cy="137.4" r="1.2" fill="#4aa04a" stroke="#397c39" stroke-width="0.35"/>
<circle cx="75.2" cy="140.9" r="1.2" fill="#4aa04a" stroke="#397c39" stroke-width="0.35"/>
<circle cx="73.3" cy="139.8" r="1.2" fill="#4aa04a" stroke="#397c39" stroke-width="0.35"/>
<circle cx="76.8" cy="136.4" r="1.2" fill="#4aa04a" stroke="#397c39" stroke-width="0.35"/>
<circle cx="74.1" cy="138.8" r="1.2" fill="#4aa04a" stroke="#397c39" stroke-width="0.35"/>
<circle cx="79.2" cy="136.2" r="1.2" fill="#4aa04a" stroke="#397c39" stroke-width="0.35"/>
<circle cx="77.0" cy="137.5" r="1.2" fill="#4aa04a" stroke="#397c39" stroke-width="0.35"/>
<circle cx="77.9" cy="136.2" r="1.2" fill="#4aa04a" stroke="#397c39" stroke-width="0.35"/>
<circle cx="70.7" cy="135.7" r="1.2" fill="#4aa04a" stroke="#397c39" stroke-width="0.35"/>
<circle cx="79.6" cy="150.1" r="1.2" fill="#52a452" stroke="#3f7f3f" stroke-width="0.35"/>
<circle cx="78.7" cy="152.4" r="1.2" fill="#52a452" stroke="#3f7f3f" stroke-width="0.35"/>
<circle cx="76.7" cy="150.2" r="1.2" fill="#52a452" stroke="#3f7f3f" stroke-width="0.35"/>
<circle cx="79.8" cy="151.4" r="1.2" fill="#52a452" stroke="#3f7f3f" stroke-width="0.35"/>
<circle cx="76.3" cy="151.8" r="1.2" fill="#52a452" stroke="#3f7f3f" stroke-width="0.35"/>
<circle cx="65.2" cy="154.7" r="1.2" fill="#4a9c4a" stroke="#397939" stroke-width="0.35"/>
<circle cx="69.4" cy="156.8" r="1.2" fill="#4a9c4a" stroke="#397939" stroke-width="0.35"/>
<circle cx="64.6" cy="155.9" r="1.2" fill="#4a9c4a" stroke="#397939" stroke-width="0.35"/>
<circle cx="65.7" cy="154.5" r="1.2" fill="#4a9c4a" stroke="#397939" stroke-width="0.35"/>
<circle cx="66.0" cy="156.0" r="1.2" fill="#4a9c4a" stroke="#397939" stroke-width="0.35"/>
<circle cx="68.6" cy="157.4" r="1.2" fill="#4a9c4a" stroke="#397939" stroke-width="0.35"/>
<circle cx="68.8" cy="157.6" r="1.2" fill="#4a9c4a" stroke="#397939" stroke-width="0.35"/>
<circle cx="67.3" cy="155.0" r="1.2" fill="#4a9c4a" stroke="#397939" stroke-width="0.35"/>
<circle cx="65.2" cy="155.2" r="1.2" fill="#4a9c4a" stroke="#397939" stroke-width="0.35"/>
<circle cx="64.4" cy="157.5" r="1.2" fill="#4a9c4a" stroke="#397939" stroke-width="0.35"/>
<circle cx="63.2" cy="156.3" r="1.2" fill="#4a9c4a" stroke="#397939" stroke-width="0.35"/>
<circle cx="64.9" cy="153.5" r="1.2" fill="#4a9c4a" stroke="#397939" stroke-width="0.35"/>
<circle cx="71.3" cy="133.4" r="1.2" fill="#222" stroke="#1a1a1a" stroke-width="0.35"/>
<circle cx="84.4" cy="144.8" r="1.15" fill="#7f8478" stroke="#63665d" stroke-width="0.35"/>
<circle cx="86.8" cy="144.2" r="1.15" fill="#7f8478" stroke="#63665d" stroke-width="0.35"/>
<circle cx="87.5" cy="143.1" r="1.15" fill="#7f8478" stroke="#63665d" stroke-width="0.35"/>
<circle cx="88.9" cy="142.9" r="1.15" fill="#7f8478" stroke="#63665d" stroke-width="0.35"/>
<circle cx="88.8" cy="143.3" r="1.15" fill="#7f8478" stroke="#63665d" stroke-width="0.35"/>
<circle cx="86.3" cy="143.9" r="1.15" fill="#7f8478" stroke="#63665d" stroke-width="0.35"/>
<circle cx="85.7" cy="144.6" r="1.15" fill="#7f8478" stroke="#63665d" stroke-width="0.35"/>
<circle cx="127.0" cy="190.9" r="1.3" fill="#b81c2c" stroke="#8f1522" stroke-width="0.35"/>
<circle cx="123.4" cy="188.8" r="1.3" fill="#b81c2c" stroke="#8f1522" stroke-width="0.35"/>
<circle cx="127.7" cy="190.1" r="1.3" fill="#b81c2c" stroke="#8f1522" stroke-width="0.35"/>
<circle cx="122.8" cy="193.7" r="1.3" fill="#b81c2c" stroke="#8f1522" stroke-width="0.35"/>
<circle cx="122.0" cy="189.7" r="1.3" fill="#b81c2c" stroke="#8f1522" stroke-width="0.35"/>
<circle cx="126.5" cy="194.1" r="1.3" fill="#b81c2c" stroke="#8f1522" stroke-width="0.35"/>
<circle cx="123.2" cy="185.4" r="1.3" fill="#b81c2c" stroke="#8f1522" stroke-width="0.35"/>
<circle cx="125.0" cy="195.2" r="1.3" fill="#b81c2c" stroke="#8f1522" stroke-width="0.35"/>
<circle cx="123.7" cy="194.4" r="1.3" fill="#b81c2c" stroke="#8f1522" stroke-width="0.35"/>
<circle cx="124.2" cy="187.1" r="1.3" fill="#b81c2c" stroke="#8f1522" stroke-width="0.35"/>
<circle cx="122.0" cy="191.2" r="1.3" fill="#b81c2c" stroke="#8f1522" stroke-width="0.35"/>
<circle cx="125.3" cy="186.6" r="1.3" fill="#b81c2c" stroke="#8f1522" stroke-width="0.35"/>
<circle cx="123.7" cy="185.7" r="1.3" fill="#b81c2c" stroke="#8f1522" stroke-width="0.35"/>
<circle cx="122.6" cy="187.1" r="1.3" fill="#b81c2c" stroke="#8f1522" stroke-width="0.35"/>
<circle cx="125.1" cy="191.8" r="1.3" fill="#b81c2c" stroke="#8f1522" stroke-width="0.35"/>
<circle cx="123.4" cy="192.1" r="1.3" fill="#b81c2c" stroke="#8f1522" stroke-width="0.35"/>
<circle cx="122.5" cy="187.7" r="1.3" fill="#b81c2c" stroke="#8f1522" stroke-width="0.35"/>
<circle cx="122.6" cy="193.5" r="1.3" fill="#b81c2c" stroke="#8f1522" stroke-width="0.35"/>
<circle cx="124.8" cy="184.8" r="1.3" fill="#b81c2c" stroke="#8f1522" stroke-width="0.35"/>
<circle cx="121.9" cy="188.7" r="1.3" fill="#b81c2c" stroke="#8f1522" stroke-width="0.35"/>
<circle cx="124.8" cy="191.7" r="1.3" fill="#b81c2c" stroke="#8f1522" stroke-width="0.35"/>
<circle cx="125.8" cy="188.9" r="1.3" fill="#b81c2c" stroke="#8f1522" stroke-width="0.35"/>
<circle cx="125.0" cy="185.0" r="1.3" fill="#6a1018" stroke="#520c12" stroke-width="0.35"/>
<circle cx="123.5" cy="195.0" r="1.3" fill="#6a1018" stroke="#520c12" stroke-width="0.35"/>
<circle cx="124.1" cy="68.5" r="1.2" fill="#d05a30" stroke="#a24625" stroke-width="0.35"/>
<circle cx="128.1" cy="68.5" r="1.2" fill="#d05a30" stroke="#a24625" stroke-width="0.35"/>
<circle cx="125.8" cy="68.8" r="1.2" fill="#d05a30" stroke="#a24625" stroke-width="0.35"/>
<circle cx="124.9" cy="72.0" r="1.2" fill="#d05a30" stroke="#a24625" stroke-width="0.35"/>
<circle cx="123.6" cy="71.2" r="1.2" fill="#d05a30" stroke="#a24625" stroke-width="0.35"/>
<circle cx="127.8" cy="69.2" r="1.2" fill="#d05a30" stroke="#a24625" stroke-width="0.35"/>
<circle cx="127.3" cy="69.1" r="1.2" fill="#d05a30" stroke="#a24625" stroke-width="0.35"/>
<circle cx="127.7" cy="69.4" r="1.2" fill="#d05a30" stroke="#a24625" stroke-width="0.35"/>
<circle cx="125.7" cy="70.6" r="1.2" fill="#d05a30" stroke="#a24625" stroke-width="0.35"/>
<circle cx="126.1" cy="68.9" r="1.2" fill="#d05a30" stroke="#a24625" stroke-width="0.35"/>
<circle cx="125.4" cy="67.4" r="1.2" fill="#d05a30" stroke="#a24625" stroke-width="0.35"/>
<circle cx="124.1" cy="69.8" r="1.2" fill="#d05a30" stroke="#a24625" stroke-width="0.35"/>
<circle cx="125.3" cy="71.7" r="1.2" fill="#d05a30" stroke="#a24625" stroke-width="0.35"/>
<circle cx="128.3" cy="69.6" r="1.2" fill="#d05a30" stroke="#a24625" stroke-width="0.35"/>
<circle cx="124.7" cy="72.3" r="1.2" fill="#d05a30" stroke="#a24625" stroke-width="0.35"/>
<circle cx="126.1" cy="71.8" r="1.2" fill="#d05a30" stroke="#a24625" stroke-width="0.35"/>
<circle cx="129.1" cy="70.0" r="1.1" fill="#c04a50" stroke="#95393e" stroke-width="0.35"/>
<circle cx="130.4" cy="69.9" r="1.1" fill="#c04a50" stroke="#95393e" stroke-width="0.35"/>
<circle cx="129.2" cy="70.6" r="1.1" fill="#c04a50" stroke="#95393e" stroke-width="0.35"/>
<circle cx="130.4" cy="70.5" r="1.1" fill="#c04a50" stroke="#95393e" stroke-width="0.35"/>
<circle cx="132.9" cy="70.3" r="1.15" fill="#c06a58" stroke="#955244" stroke-width="0.35"/>
<circle cx="134.3" cy="70.4" r="1.15" fill="#c06a58" stroke="#955244" stroke-width="0.35"/>
<circle cx="132.3" cy="69.7" r="1.15" fill="#c06a58" stroke="#955244" stroke-width="0.35"/>
<circle cx="134.2" cy="69.8" r="1.15" fill="#c06a58" stroke="#955244" stroke-width="0.35"/>
<circle cx="133.1" cy="68.8" r="1.15" fill="#c06a58" stroke="#955244" stroke-width="0.35"/>
<circle cx="134.4" cy="68.8" r="1.15" fill="#c06a58" stroke="#955244" stroke-width="0.35"/>
<circle cx="138.0" cy="66.6" r="1.2" fill="#b87868" stroke="#8f5d51" stroke-width="0.35"/>
<circle cx="136.5" cy="68.0" r="1.2" fill="#b87868" stroke="#8f5d51" stroke-width="0.35"/>
<circle cx="128.3" cy="63.2" r="1.1" fill="#7080a0" stroke="#57637c" stroke-width="0.35"/>
<circle cx="129.8" cy="63.2" r="1.1" fill="#7080a0" stroke="#57637c" stroke-width="0.35"/>
<circle cx="157.2" cy="48.3" r="1.2" fill="#dcd640" stroke="#aba631" stroke-width="0.35"/>
<circle cx="155.8" cy="44.6" r="1.2" fill="#dcd640" stroke="#aba631" stroke-width="0.35"/>
<circle cx="156.9" cy="48.7" r="1.2" fill="#dcd640" stroke="#aba631" stroke-width="0.35"/>
<circle cx="154.6" cy="51.1" r="1.2" fill="#dcd640" stroke="#aba631" stroke-width="0.35"/>
<circle cx="157.9" cy="48.4" r="1.2" fill="#dcd640" stroke="#aba631" stroke-width="0.35"/>
<circle cx="154.3" cy="48.6" r="1.2" fill="#dcd640" stroke="#aba631" stroke-width="0.35"/>
<circle cx="155.8" cy="45.2" r="1.2" fill="#dcd640" stroke="#aba631" stroke-width="0.35"/>
<circle cx="155.9" cy="48.9" r="1.2" fill="#dcd640" stroke="#aba631" stroke-width="0.35"/>
<circle cx="153.4" cy="50.0" r="1.2" fill="#dcd640" stroke="#aba631" stroke-width="0.35"/>
<circle cx="153.7" cy="50.9" r="1.2" fill="#dcd640" stroke="#aba631" stroke-width="0.35"/>
<circle cx="157.9" cy="48.9" r="1.2" fill="#dcd640" stroke="#aba631" stroke-width="0.35"/>
<circle cx="153.5" cy="48.8" r="1.2" fill="#dcd640" stroke="#aba631" stroke-width="0.35"/>
<circle cx="163.3" cy="49.3" r="1.2" fill="#dcd640" stroke="#aba631" stroke-width="0.35"/>
<circle cx="168.1" cy="44.8" r="1.2" fill="#dcd640" stroke="#aba631" stroke-width="0.35"/>
<circle cx="169.9" cy="46.6" r="1.2" fill="#dcd640" stroke="#aba631" stroke-width="0.35"/>
<circle cx="160.9" cy="48.3" r="1.2" fill="#dcd640" stroke="#aba631" stroke-width="0.35"/>
<circle cx="163.0" cy="48.1" r="1.2" fill="#dcd640" stroke="#aba631" stroke-width="0.35"/>
<circle cx="162.1" cy="48.5" r="1.2" fill="#dcd640" stroke="#aba631" stroke-width="0.35"/>
<circle cx="160.7" cy="46.6" r="1.2" fill="#dcd640" stroke="#aba631" stroke-width="0.35"/>
<circle cx="162.0" cy="46.6" r="1.2" fill="#dcd640" stroke="#aba631" stroke-width="0.35"/>
<circle cx="162.6" cy="43.8" r="1.2" fill="#dcd640" stroke="#aba631" stroke-width="0.35"/>
<circle cx="161.1" cy="44.6" r="1.2" fill="#dcd640" stroke="#aba631" stroke-width="0.35"/>
<circle cx="169.4" cy="47.7" r="1.2" fill="#dcd640" stroke="#aba631" stroke-width="0.35"/>
<circle cx="167.7" cy="44.3" r="1.2" fill="#dcd640" stroke="#aba631" stroke-width="0.35"/>
<circle cx="164.9" cy="47.4" r="1.2" fill="#dcd640" stroke="#aba631" stroke-width="0.35"/>
<circle cx="163.1" cy="48.8" r="1.2" fill="#dcd640" stroke="#aba631" stroke-width="0.35"/>
<circle cx="164.4" cy="55.1" r="1.2" fill="#e2dc58" stroke="#b0ab44" stroke-width="0.35"/>
<circle cx="163.2" cy="56.6" r="1.2" fill="#e2dc58" stroke="#b0ab44" stroke-width="0.35"/>
<circle cx="164.6" cy="53.5" r="1.2" fill="#e2dc58" stroke="#b0ab44" stroke-width="0.35"/>
<circle cx="166.1" cy="54.1" r="1.2" fill="#e2dc58" stroke="#b0ab44" stroke-width="0.35"/>
<circle cx="161.4" cy="56.2" r="1.2" fill="#e2dc58" stroke="#b0ab44" stroke-width="0.35"/>
<circle cx="162.0" cy="55.5" r="1.2" fill="#e2dc58" stroke="#b0ab44" stroke-width="0.35"/>
<circle cx="167.9" cy="55.1" r="1.2" fill="#e2dc58" stroke="#b0ab44" stroke-width="0.35"/>
<circle cx="165.3" cy="53.2" r="1.2" fill="#e2dc58" stroke="#b0ab44" stroke-width="0.35"/>
<circle cx="161.2" cy="55.3" r="1.2" fill="#e2dc58" stroke="#b0ab44" stroke-width="0.35"/>
<circle cx="163.5" cy="54.6" r="1.2" fill="#e2dc58" stroke="#b0ab44" stroke-width="0.35"/>
<circle cx="170.5" cy="55.8" r="1.2" fill="#dcd640" stroke="#aba631" stroke-width="0.35"/>
<circle cx="171.9" cy="50.5" r="1.2" fill="#dcd640" stroke="#aba631" stroke-width="0.35"/>
<circle cx="171.9" cy="51.7" r="1.2" fill="#dcd640" stroke="#aba631" stroke-width="0.35"/>
<circle cx="174.4" cy="55.2" r="1.2" fill="#dcd640" stroke="#aba631" stroke-width="0.35"/>
<circle cx="170.2" cy="55.5" r="1.2" fill="#dcd640" stroke="#aba631" stroke-width="0.35"/>
<circle cx="173.2" cy="50.8" r="1.2" fill="#dcd640" stroke="#aba631" stroke-width="0.35"/>
<circle cx="175.0" cy="57.9" r="1.2" fill="#dcd640" stroke="#aba631" stroke-width="0.35"/>
<circle cx="176.6" cy="53.4" r="1.2" fill="#dcd640" stroke="#aba631" stroke-width="0.35"/>
<circle cx="175.1" cy="54.9" r="1.2" fill="#dcd640" stroke="#aba631" stroke-width="0.35"/>
<circle cx="171.9" cy="55.7" r="1.2" fill="#dcd640" stroke="#aba631" stroke-width="0.35"/>
<circle cx="172.9" cy="58.5" r="1.2" fill="#dcd640" stroke="#aba631" stroke-width="0.35"/>
<circle cx="176.1" cy="51.9" r="1.2" fill="#dcd640" stroke="#aba631" stroke-width="0.35"/>
<circle cx="173.8" cy="53.4" r="1.2" fill="#dcd640" stroke="#aba631" stroke-width="0.35"/>
<circle cx="174.1" cy="58.5" r="1.2" fill="#dcd640" stroke="#aba631" stroke-width="0.35"/>
<circle cx="169.6" cy="51.4" r="1.2" fill="#dcd640" stroke="#aba631" stroke-width="0.35"/>
<circle cx="174.7" cy="54.4" r="1.2" fill="#dcd640" stroke="#aba631" stroke-width="0.35"/>
<circle cx="175.1" cy="57.3" r="1.2" fill="#dcd640" stroke="#aba631" stroke-width="0.35"/>
<circle cx="169.9" cy="52.5" r="1.2" fill="#dcd640" stroke="#aba631" stroke-width="0.35"/>
<circle cx="171.3" cy="50.0" r="1.2" fill="#dcd640" stroke="#aba631" stroke-width="0.35"/>
<circle cx="177.8" cy="57.0" r="1.2" fill="#dcd640" stroke="#aba631" stroke-width="0.35"/>
<circle cx="153.5" cy="51.0" r="1.2" fill="#c8b838" stroke="#9c8f2b" stroke-width="0.35"/>
<circle cx="156.5" cy="53.5" r="1.2" fill="#c8b838" stroke="#9c8f2b" stroke-width="0.35"/>
<circle cx="158.5" cy="45.0" r="1.2" fill="#c8b838" stroke="#9c8f2b" stroke-width="0.35"/>
<circle cx="170.9" cy="47.0" r="1.1" fill="#2a3a8a" stroke="#202d6b" stroke-width="0.35"/>
<circle cx="161.0" cy="51.3" r="1.1" fill="#2a3a8a" stroke="#202d6b" stroke-width="0.35"/>
<circle cx="169.0" cy="51.3" r="1.1" fill="#2a3a8a" stroke="#202d6b" stroke-width="0.35"/>
<circle cx="163.2" cy="63.8" r="1.1" fill="#2a3a8a" stroke="#202d6b" stroke-width="0.35"/>
<circle cx="175.0" cy="47.5" r="1.1" fill="#2a3a8a" stroke="#202d6b" stroke-width="0.35"/>
<circle cx="164.6" cy="53.9" r="1.1" fill="#4a4a2a" stroke="#393920" stroke-width="0.35"/>
<circle cx="176.0" cy="53.5" r="1.1" fill="#4a4a2a" stroke="#393920" stroke-width="0.35"/>
<circle cx="173.5" cy="56.5" r="1.1" fill="#4a4a2a" stroke="#393920" stroke-width="0.35"/>
<circle cx="170.0" cy="55.0" r="1.1" fill="#9a7070" stroke="#785757" stroke-width="0.35"/>
<circle cx="171.8" cy="57.0" r="1.1" fill="#9a7070" stroke="#785757" stroke-width="0.35"/>
<circle cx="159.5" cy="56.8" r="1.1" fill="#7a9a40" stroke="#5f7831" stroke-width="0.35"/>
<circle cx="158.0" cy="58.5" r="1.1" fill="#7a9a40" stroke="#5f7831" stroke-width="0.35"/>
<circle cx="176.0" cy="58.5" r="1.1" fill="#c0a850" stroke="#95833e" stroke-width="0.35"/>
<circle cx="179.0" cy="58.0" r="1.1" fill="#c0a850" stroke="#95833e" stroke-width="0.35"/>
<circle cx="154.2" cy="64.7" r="1.15" fill="#d07a48" stroke="#a25f38" stroke-width="0.35"/>
<circle cx="152.3" cy="64.7" r="1.15" fill="#d07a48" stroke="#a25f38" stroke-width="0.35"/>
<circle cx="152.3" cy="61.1" r="1.15" fill="#d07a48" stroke="#a25f38" stroke-width="0.35"/>
<circle cx="150.5" cy="61.1" r="1.15" fill="#d07a48" stroke="#a25f38" stroke-width="0.35"/>
<circle cx="150.2" cy="61.8" r="1.15" fill="#d07a48" stroke="#a25f38" stroke-width="0.35"/>
<circle cx="153.7" cy="64.4" r="1.15" fill="#d07a48" stroke="#a25f38" stroke-width="0.35"/>
<circle cx="154.2" cy="64.5" r="1.15" fill="#d07a48" stroke="#a25f38" stroke-width="0.35"/>
<circle cx="151.3" cy="63.4" r="1.15" fill="#d07a48" stroke="#a25f38" stroke-width="0.35"/>
<circle cx="152.2" cy="65.0" r="1.15" fill="#d07a48" stroke="#a25f38" stroke-width="0.35"/>
<circle cx="150.5" cy="60.5" r="1.1" fill="#b0a040" stroke="#897c31" stroke-width="0.35"/>
<circle cx="151.5" cy="66.0" r="1.1" fill="#b0a040" stroke="#897c31" stroke-width="0.35"/>
<circle cx="153.5" cy="58.5" r="1.1" fill="#b0a040" stroke="#897c31" stroke-width="0.35"/>
<circle cx="165.2" cy="61.9" r="1.15" fill="#a86a50" stroke="#83523e" stroke-width="0.35"/>
<circle cx="166.4" cy="68.2" r="1.15" fill="#a86a50" stroke="#83523e" stroke-width="0.35"/>
<circle cx="162.2" cy="67.4" r="1.15" fill="#a86a50" stroke="#83523e" stroke-width="0.35"/>
<circle cx="162.4" cy="66.2" r="1.15" fill="#a86a50" stroke="#83523e" stroke-width="0.35"/>
<circle cx="163.3" cy="67.4" r="1.15" fill="#a86a50" stroke="#83523e" stroke-width="0.35"/>
<circle cx="163.3" cy="61.7" r="1.15" fill="#a86a50" stroke="#83523e" stroke-width="0.35"/>
<circle cx="169.1" cy="65.2" r="1.15" fill="#a86a50" stroke="#83523e" stroke-width="0.35"/>
<circle cx="166.9" cy="65.5" r="1.15" fill="#a86a50" stroke="#83523e" stroke-width="0.35"/>
<circle cx="169.8" cy="63.7" r="1.15" fill="#a86a50" stroke="#83523e" stroke-width="0.35"/>
<circle cx="168.4" cy="65.8" r="1.15" fill="#a86a50" stroke="#83523e" stroke-width="0.35"/>
<circle cx="168.6" cy="63.4" r="1.15" fill="#a86a50" stroke="#83523e" stroke-width="0.35"/>
<circle cx="167.2" cy="64.6" r="1.15" fill="#a86a50" stroke="#83523e" stroke-width="0.35"/>
<circle cx="163.1" cy="61.4" r="1.15" fill="#a86a50" stroke="#83523e" stroke-width="0.35"/>
<circle cx="166.2" cy="60.2" r="1.15" fill="#a86a50" stroke="#83523e" stroke-width="0.35"/>
<circle cx="172.1" cy="61.6" r="1.15" fill="#c07a50" stroke="#955f3e" stroke-width="0.35"/>
<circle cx="167.7" cy="63.7" r="1.15" fill="#c07a50" stroke="#955f3e" stroke-width="0.35"/>
<circle cx="170.7" cy="63.7" r="1.15" fill="#c07a50" stroke="#955f3e" stroke-width="0.35"/>
<circle cx="171.2" cy="59.9" r="1.15" fill="#c07a50" stroke="#955f3e" stroke-width="0.35"/>
<circle cx="170.5" cy="61.7" r="1.15" fill="#c07a50" stroke="#955f3e" stroke-width="0.35"/>
<circle cx="171.6" cy="64.4" r="1.15" fill="#c07a50" stroke="#955f3e" stroke-width="0.35"/>
<circle cx="173.9" cy="62.6" r="1.2" fill="#d2704e" stroke="#a3573c" stroke-width="0.35"/>
<circle cx="178.2" cy="67.8" r="1.2" fill="#d2704e" stroke="#a3573c" stroke-width="0.35"/>
<circle cx="178.3" cy="67.8" r="1.2" fill="#d2704e" stroke="#a3573c" stroke-width="0.35"/>
<circle cx="174.5" cy="62.5" r="1.2" fill="#d2704e" stroke="#a3573c" stroke-width="0.35"/>
<circle cx="173.2" cy="69.1" r="1.2" fill="#d2704e" stroke="#a3573c" stroke-width="0.35"/>
<circle cx="173.9" cy="64.7" r="1.2" fill="#d2704e" stroke="#a3573c" stroke-width="0.35"/>
<circle cx="175.5" cy="61.7" r="1.2" fill="#d2704e" stroke="#a3573c" stroke-width="0.35"/>
<circle cx="174.3" cy="64.3" r="1.2" fill="#d2704e" stroke="#a3573c" stroke-width="0.35"/>
<circle cx="177.5" cy="65.2" r="1.2" fill="#d2704e" stroke="#a3573c" stroke-width="0.35"/>
<circle cx="174.7" cy="71.1" r="1.2" fill="#d2704e" stroke="#a3573c" stroke-width="0.35"/>
<circle cx="176.0" cy="70.0" r="1.2" fill="#d2704e" stroke="#a3573c" stroke-width="0.35"/>
<circle cx="176.8" cy="61.8" r="1.2" fill="#d2704e" stroke="#a3573c" stroke-width="0.35"/>
<circle cx="175.4" cy="65.9" r="1.2" fill="#d2704e" stroke="#a3573c" stroke-width="0.35"/>
<circle cx="177.9" cy="65.0" r="1.2" fill="#d2704e" stroke="#a3573c" stroke-width="0.35"/>
<circle cx="177.4" cy="66.9" r="1.2" fill="#d2704e" stroke="#a3573c" stroke-width="0.35"/>
<circle cx="174.0" cy="70.1" r="1.2" fill="#d2704e" stroke="#a3573c" stroke-width="0.35"/>
<circle cx="156.2" cy="71.6" r="1.15" fill="#b4b864" stroke="#8c8f4e" stroke-width="0.35"/>
<circle cx="157.9" cy="69.9" r="1.15" fill="#b4b864" stroke="#8c8f4e" stroke-width="0.35"/>
<circle cx="159.8" cy="68.1" r="1.15" fill="#b4b864" stroke="#8c8f4e" stroke-width="0.35"/>
<circle cx="158.0" cy="69.1" r="1.15" fill="#b4b864" stroke="#8c8f4e" stroke-width="0.35"/>
<circle cx="160.0" cy="68.6" r="1.15" fill="#b4b864" stroke="#8c8f4e" stroke-width="0.35"/>
<circle cx="160.7" cy="68.7" r="1.15" fill="#b4b864" stroke="#8c8f4e" stroke-width="0.35"/>
<circle cx="156.3" cy="71.2" r="1.15" fill="#b4b864" stroke="#8c8f4e" stroke-width="0.35"/>
<circle cx="158.5" cy="62.9" r="1.15" fill="#c08a70" stroke="#956b57" stroke-width="0.35"/>
<circle cx="159.0" cy="62.8" r="1.15" fill="#c08a70" stroke="#956b57" stroke-width="0.35"/>
<circle cx="159.7" cy="65.3" r="1.15" fill="#c08a70" stroke="#956b57" stroke-width="0.35"/>
<circle cx="159.6" cy="65.0" r="1.15" fill="#c08a70" stroke="#956b57" stroke-width="0.35"/>
<circle cx="160.0" cy="62.0" r="1.1" fill="#2a3a8a" stroke="#202d6b" stroke-width="0.35"/>
<circle cx="163.0" cy="68.0" r="1.1" fill="#6a7a3a" stroke="#525f2d" stroke-width="0.35"/>
<circle cx="172.0" cy="70.0" r="1.1" fill="#6a7a3a" stroke="#525f2d" stroke-width="0.35"/>
<circle cx="169.0" cy="61.0" r="1.1" fill="#6a7a3a" stroke="#525f2d" stroke-width="0.35"/>
<circle cx="165.0" cy="73.0" r="1.1" fill="#a07050" stroke="#7c573e" stroke-width="0.35"/>
<circle cx="168.0" cy="72.0" r="1.1" fill="#a07050" stroke="#7c573e" stroke-width="0.35"/>
<circle cx="162.0" cy="72.0" r="1.1" fill="#a07050" stroke="#7c573e" stroke-width="0.35"/>
<circle cx="150.0" cy="75.0" r="1.1" fill="#e0d8c8" stroke="#aea89c" stroke-width="0.35"/>
<circle cx="148.0" cy="76.0" r="1.1" fill="#e0d8c8" stroke="#aea89c" stroke-width="0.35"/>
<circle cx="173.0" cy="78.0" r="1.1" fill="#8a5a6a" stroke="#6b4652" stroke-width="0.35"/>
<circle cx="175.0" cy="77.0" r="1.1" fill="#8a5a6a" stroke="#6b4652" stroke-width="0.35"/>
<circle cx="169.0" cy="76.0" r="1.1" fill="#8a5a6a" stroke="#6b4652" stroke-width="0.35"/>
<circle cx="153.0" cy="66.0" r="1.1" fill="#e0a040" stroke="#ae7c31" stroke-width="0.35"/>
<circle cx="155.5" cy="64.0" r="1.1" fill="#e0a040" stroke="#ae7c31" stroke-width="0.35"/>
<circle cx="156.0" cy="61.0" r="1.1" fill="#e0a040" stroke="#ae7c31" stroke-width="0.35"/>
<circle cx="151.1" cy="81.7" r="1.15" fill="#2c3c94" stroke="#222e73" stroke-width="0.35"/>
<circle cx="151.4" cy="85.5" r="1.15" fill="#2c3c94" stroke="#222e73" stroke-width="0.35"/>
<circle cx="150.6" cy="85.5" r="1.15" fill="#2c3c94" stroke="#222e73" stroke-width="0.35"/>
<circle cx="152.0" cy="81.6" r="1.15" fill="#2c3c94" stroke="#222e73" stroke-width="0.35"/>
<circle cx="154.3" cy="80.5" r="1.15" fill="#2c3c94" stroke="#222e73" stroke-width="0.35"/>
<circle cx="151.8" cy="82.7" r="1.15" fill="#2c3c94" stroke="#222e73" stroke-width="0.35"/>
<circle cx="153.5" cy="84.4" r="1.15" fill="#2c3c94" stroke="#222e73" stroke-width="0.35"/>
<circle cx="152.9" cy="81.3" r="1.15" fill="#2c3c94" stroke="#222e73" stroke-width="0.35"/>
<circle cx="151.0" cy="79.9" r="1.15" fill="#2c3c94" stroke="#222e73" stroke-width="0.35"/>
<circle cx="154.1" cy="83.7" r="1.15" fill="#2c3c94" stroke="#222e73" stroke-width="0.35"/>
<circle cx="153.5" cy="80.0" r="1.15" fill="#2c3c94" stroke="#222e73" stroke-width="0.35"/>
<circle cx="151.6" cy="84.6" r="1.15" fill="#2c3c94" stroke="#222e73" stroke-width="0.35"/>
<circle cx="152.5" cy="79.7" r="1.15" fill="#2c3c94" stroke="#222e73" stroke-width="0.35"/>
<circle cx="151.8" cy="85.4" r="1.15" fill="#2c3c94" stroke="#222e73" stroke-width="0.35"/>
<circle cx="152.0" cy="90.5" r="1.15" fill="#2c3c94" stroke="#222e73" stroke-width="0.35"/>
<circle cx="150.0" cy="93.8" r="1.15" fill="#2c3c94" stroke="#222e73" stroke-width="0.35"/>
<circle cx="158.0" cy="89.0" r="1.15" fill="#2c3c94" stroke="#222e73" stroke-width="0.35"/>
<circle cx="157.5" cy="88.0" r="1.15" fill="#2c3c94" stroke="#222e73" stroke-width="0.35"/>
<circle cx="159.0" cy="90.0" r="1.15" fill="#2c3c94" stroke="#222e73" stroke-width="0.35"/>
<circle cx="157.5" cy="85.0" r="1.15" fill="#3a6a3a" stroke="#2d522d" stroke-width="0.35"/>
<circle cx="156.0" cy="86.0" r="1.15" fill="#3a6a3a" stroke="#2d522d" stroke-width="0.35"/>
<circle cx="160.0" cy="82.0" r="1.15" fill="#c8c870" stroke="#9c9c57" stroke-width="0.35"/>
<circle cx="165.0" cy="82.0" r="1.15" fill="#c8c870" stroke="#9c9c57" stroke-width="0.35"/>
<circle cx="165.0" cy="87.0" r="1.15" fill="#c8c870" stroke="#9c9c57" stroke-width="0.35"/>
<circle cx="163.0" cy="84.0" r="1.15" fill="#c8c870" stroke="#9c9c57" stroke-width="0.35"/>
<circle cx="161.0" cy="86.0" r="1.15" fill="#c8c870" stroke="#9c9c57" stroke-width="0.35"/>
<circle cx="168.0" cy="81.0" r="1.15" fill="#c0604a" stroke="#954a39" stroke-width="0.35"/>
<circle cx="172.0" cy="78.5" r="1.15" fill="#c0604a" stroke="#954a39" stroke-width="0.35"/>
<circle cx="170.0" cy="80.0" r="1.15" fill="#c0604a" stroke="#954a39" stroke-width="0.35"/>
<circle cx="172.0" cy="85.0" r="1.15" fill="#d0609c" stroke="#a24a79" stroke-width="0.35"/>
<circle cx="170.0" cy="90.0" r="1.15" fill="#d0609c" stroke="#a24a79" stroke-width="0.35"/>
<circle cx="175.0" cy="89.0" r="1.15" fill="#d0609c" stroke="#a24a79" stroke-width="0.35"/>
<circle cx="176.0" cy="87.5" r="1.15" fill="#d0609c" stroke="#a24a79" stroke-width="0.35"/>
<circle cx="173.0" cy="91.0" r="1.15" fill="#d0609c" stroke="#a24a79" stroke-width="0.35"/>
<circle cx="195.2" cy="101.9" r="1.2" fill="#cd6a9f" stroke="#9f527c" stroke-width="0.35"/>
<circle cx="201.3" cy="105.7" r="1.2" fill="#cd6a9f" stroke="#9f527c" stroke-width="0.35"/>
<circle cx="193.8" cy="101.4" r="1.2" fill="#cd6a9f" stroke="#9f527c" stroke-width="0.35"/>
<circle cx="199.1" cy="104.6" r="1.2" fill="#cd6a9f" stroke="#9f527c" stroke-width="0.35"/>
<circle cx="195.4" cy="100.8" r="1.2" fill="#cd6a9f" stroke="#9f527c" stroke-width="0.35"/>
<circle cx="193.3" cy="100.2" r="1.2" fill="#cd6a9f" stroke="#9f527c" stroke-width="0.35"/>
<circle cx="198.3" cy="102.4" r="1.2" fill="#cd6a9f" stroke="#9f527c" stroke-width="0.35"/>
<circle cx="200.9" cy="106.6" r="1.2" fill="#cd6a9f" stroke="#9f527c" stroke-width="0.35"/>
<circle cx="200.6" cy="105.6" r="1.2" fill="#cd6a9f" stroke="#9f527c" stroke-width="0.35"/>
<circle cx="197.8" cy="102.8" r="1.2" fill="#cd6a9f" stroke="#9f527c" stroke-width="0.35"/>
<circle cx="201.6" cy="106.5" r="1.2" fill="#cd6a9f" stroke="#9f527c" stroke-width="0.35"/>
<circle cx="199.8" cy="105.4" r="1.2" fill="#cd6a9f" stroke="#9f527c" stroke-width="0.35"/>
<circle cx="198.9" cy="105.6" r="1.2" fill="#cd6a9f" stroke="#9f527c" stroke-width="0.35"/>
<circle cx="202.3" cy="109.2" r="1.2" fill="#cd6a9f" stroke="#9f527c" stroke-width="0.35"/>
<circle cx="207.2" cy="123.2" r="1.2" fill="#cd6a9f" stroke="#9f527c" stroke-width="0.35"/>
<circle cx="209.5" cy="125.4" r="1.2" fill="#cd6a9f" stroke="#9f527c" stroke-width="0.35"/>
<circle cx="199.4" cy="119.3" r="1.2" fill="#cd6a9f" stroke="#9f527c" stroke-width="0.35"/>
<circle cx="200.0" cy="116.8" r="1.2" fill="#cd6a9f" stroke="#9f527c" stroke-width="0.35"/>
<circle cx="204.0" cy="119.6" r="1.2" fill="#cd6a9f" stroke="#9f527c" stroke-width="0.35"/>
<circle cx="204.6" cy="118.0" r="1.2" fill="#cd6a9f" stroke="#9f527c" stroke-width="0.35"/>
<circle cx="202.7" cy="113.7" r="1.2" fill="#cd6a9f" stroke="#9f527c" stroke-width="0.35"/>
<circle cx="204.3" cy="115.7" r="1.2" fill="#cd6a9f" stroke="#9f527c" stroke-width="0.35"/>
<circle cx="203.8" cy="120.0" r="1.2" fill="#cd6a9f" stroke="#9f527c" stroke-width="0.35"/>
<circle cx="204.4" cy="121.1" r="1.2" fill="#cd6a9f" stroke="#9f527c" stroke-width="0.35"/>
<circle cx="206.8" cy="118.2" r="1.2" fill="#cd6a9f" stroke="#9f527c" stroke-width="0.35"/>
<circle cx="206.3" cy="117.1" r="1.2" fill="#cd6a9f" stroke="#9f527c" stroke-width="0.35"/>
<circle cx="209.5" cy="127.9" r="1.2" fill="#cd6a9f" stroke="#9f527c" stroke-width="0.35"/>
<circle cx="201.8" cy="117.5" r="1.2" fill="#cd6a9f" stroke="#9f527c" stroke-width="0.35"/>
<circle cx="207.1" cy="120.9" r="1.2" fill="#cd6a9f" stroke="#9f527c" stroke-width="0.35"/>
<circle cx="211.6" cy="130.3" r="1.2" fill="#cd6a9f" stroke="#9f527c" stroke-width="0.35"/>
<circle cx="202.9" cy="115.2" r="1.2" fill="#cd6a9f" stroke="#9f527c" stroke-width="0.35"/>
<circle cx="197.5" cy="116.2" r="1.2" fill="#cd6a9f" stroke="#9f527c" stroke-width="0.35"/>
<circle cx="201.5" cy="114.5" r="1.2" fill="#cd6a9f" stroke="#9f527c" stroke-width="0.35"/>
<circle cx="206.9" cy="120.2" r="1.2" fill="#cd6a9f" stroke="#9f527c" stroke-width="0.35"/>
<circle cx="205.9" cy="121.7" r="1.2" fill="#cd6a9f" stroke="#9f527c" stroke-width="0.35"/>
<circle cx="201.0" cy="116.7" r="1.2" fill="#cd6a9f" stroke="#9f527c" stroke-width="0.35"/>
<circle cx="207.1" cy="118.8" r="1.2" fill="#cd6a9f" stroke="#9f527c" stroke-width="0.35"/>
<circle cx="208.8" cy="127.7" r="1.2" fill="#cd6a9f" stroke="#9f527c" stroke-width="0.35"/>
<circle cx="208.4" cy="123.1" r="1.2" fill="#cd6a9f" stroke="#9f527c" stroke-width="0.35"/>
<circle cx="204.6" cy="113.0" r="1.2" fill="#cd6a9f" stroke="#9f527c" stroke-width="0.35"/>
<circle cx="205.8" cy="125.9" r="1.2" fill="#cd6a9f" stroke="#9f527c" stroke-width="0.35"/>
<circle cx="199.6" cy="120.4" r="1.2" fill="#cd6a9f" stroke="#9f527c" stroke-width="0.35"/>
<circle cx="198.6" cy="114.2" r="1.2" fill="#cd6a9f" stroke="#9f527c" stroke-width="0.35"/>
<circle cx="206.2" cy="119.7" r="1.2" fill="#cd6a9f" stroke="#9f527c" stroke-width="0.35"/>
<circle cx="209.0" cy="123.8" r="1.2" fill="#cd6a9f" stroke="#9f527c" stroke-width="0.35"/>
<circle cx="201.0" cy="118.2" r="1.2" fill="#cd6a9f" stroke="#9f527c" stroke-width="0.35"/>
<circle cx="197.9" cy="115.9" r="1.2" fill="#cd6a9f" stroke="#9f527c" stroke-width="0.35"/>
<circle cx="203.7" cy="116.1" r="1.2" fill="#cd6a9f" stroke="#9f527c" stroke-width="0.35"/>
<circle cx="207.1" cy="124.0" r="1.2" fill="#cd6a9f" stroke="#9f527c" stroke-width="0.35"/>
<circle cx="198.7" cy="117.2" r="1.2" fill="#cd6a9f" stroke="#9f527c" stroke-width="0.35"/>
<circle cx="199.9" cy="118.0" r="1.2" fill="#cd6a9f" stroke="#9f527c" stroke-width="0.35"/>
<circle cx="207.6" cy="121.7" r="1.2" fill="#cd6a9f" stroke="#9f527c" stroke-width="0.35"/>
<circle cx="204.3" cy="115.9" r="1.2" fill="#cd6a9f" stroke="#9f527c" stroke-width="0.35"/>
<circle cx="206.0" cy="125.8" r="1.2" fill="#cd6a9f" stroke="#9f527c" stroke-width="0.35"/>
<circle cx="201.2" cy="116.8" r="1.2" fill="#cd6a9f" stroke="#9f527c" stroke-width="0.35"/>
<circle cx="205.6" cy="123.1" r="1.2" fill="#cd6a9f" stroke="#9f527c" stroke-width="0.35"/>
<circle cx="207.1" cy="122.5" r="1.2" fill="#cd6a9f" stroke="#9f527c" stroke-width="0.35"/>
<circle cx="210.4" cy="127.7" r="1.2" fill="#cd6a9f" stroke="#9f527c" stroke-width="0.35"/>
<circle cx="203.8" cy="114.3" r="1.2" fill="#cd6a9f" stroke="#9f527c" stroke-width="0.35"/>
<circle cx="203.7" cy="120.3" r="1.2" fill="#cd6a9f" stroke="#9f527c" stroke-width="0.35"/>
<circle cx="204.5" cy="121.1" r="1.2" fill="#cd6a9f" stroke="#9f527c" stroke-width="0.35"/>
<circle cx="196.1" cy="115.6" r="1.2" fill="#cd6a9f" stroke="#9f527c" stroke-width="0.35"/>
<circle cx="210.0" cy="125.0" r="1.2" fill="#cd6a9f" stroke="#9f527c" stroke-width="0.35"/>
<circle cx="202.1" cy="119.4" r="1.2" fill="#cd6a9f" stroke="#9f527c" stroke-width="0.35"/>
<circle cx="207.0" cy="119.4" r="1.2" fill="#cd6a9f" stroke="#9f527c" stroke-width="0.35"/>
<circle cx="204.1" cy="119.1" r="1.2" fill="#cd6a9f" stroke="#9f527c" stroke-width="0.35"/>
<circle cx="202.3" cy="113.2" r="1.2" fill="#cd6a9f" stroke="#9f527c" stroke-width="0.35"/>
<circle cx="204.4" cy="111.4" r="1.2" fill="#cd6a9f" stroke="#9f527c" stroke-width="0.35"/>
<circle cx="197.6" cy="117.0" r="1.2" fill="#cd6a9f" stroke="#9f527c" stroke-width="0.35"/>
<circle cx="205.2" cy="113.1" r="1.2" fill="#cd6a9f" stroke="#9f527c" stroke-width="0.35"/>
<circle cx="202.5" cy="120.9" r="1.2" fill="#cd6a9f" stroke="#9f527c" stroke-width="0.35"/>
<circle cx="194.4" cy="117.0" r="1.2" fill="#cd6a9f" stroke="#9f527c" stroke-width="0.35"/>
<circle cx="200.7" cy="121.5" r="1.2" fill="#cd6a9f" stroke="#9f527c" stroke-width="0.35"/>
<circle cx="198.6" cy="116.5" r="1.2" fill="#cd6a9f" stroke="#9f527c" stroke-width="0.35"/>
<circle cx="194.6" cy="126.8" r="1.2" fill="#cd6a9f" stroke="#9f527c" stroke-width="0.35"/>
<circle cx="201.8" cy="127.1" r="1.2" fill="#cd6a9f" stroke="#9f527c" stroke-width="0.35"/>
<circle cx="196.6" cy="117.3" r="1.2" fill="#cd6a9f" stroke="#9f527c" stroke-width="0.35"/>
<circle cx="197.4" cy="118.2" r="1.2" fill="#cd6a9f" stroke="#9f527c" stroke-width="0.35"/>
<circle cx="196.9" cy="127.8" r="1.2" fill="#cd6a9f" stroke="#9f527c" stroke-width="0.35"/>
<circle cx="196.6" cy="126.2" r="1.2" fill="#cd6a9f" stroke="#9f527c" stroke-width="0.35"/>
<circle cx="194.0" cy="127.3" r="1.2" fill="#cd6a9f" stroke="#9f527c" stroke-width="0.35"/>
<circle cx="203.8" cy="128.3" r="1.2" fill="#cd6a9f" stroke="#9f527c" stroke-width="0.35"/>
<circle cx="199.4" cy="125.4" r="1.2" fill="#cd6a9f" stroke="#9f527c" stroke-width="0.35"/>
<circle cx="200.5" cy="126.3" r="1.2" fill="#cd6a9f" stroke="#9f527c" stroke-width="0.35"/>
<circle cx="197.8" cy="127.8" r="1.2" fill="#cd6a9f" stroke="#9f527c" stroke-width="0.35"/>
<circle cx="195.3" cy="125.3" r="1.2" fill="#cd6a9f" stroke="#9f527c" stroke-width="0.35"/>
<circle cx="198.7" cy="127.7" r="1.2" fill="#cd6a9f" stroke="#9f527c" stroke-width="0.35"/>
<circle cx="197.8" cy="128.6" r="1.2" fill="#cd6a9f" stroke="#9f527c" stroke-width="0.35"/>
<circle cx="198.7" cy="127.6" r="1.2" fill="#cd6a9f" stroke="#9f527c" stroke-width="0.35"/>
<circle cx="200.4" cy="122.9" r="1.2" fill="#cd6a9f" stroke="#9f527c" stroke-width="0.35"/>
<circle cx="195.3" cy="116.8" r="1.2" fill="#cd6a9f" stroke="#9f527c" stroke-width="0.35"/>
<circle cx="199.5" cy="127.5" r="1.2" fill="#cd6a9f" stroke="#9f527c" stroke-width="0.35"/>
<circle cx="198.0" cy="123.3" r="1.2" fill="#cd6a9f" stroke="#9f527c" stroke-width="0.35"/>
<circle cx="201.0" cy="127.8" r="1.2" fill="#cd6a9f" stroke="#9f527c" stroke-width="0.35"/>
<circle cx="194.1" cy="120.6" r="1.2" fill="#cd6a9f" stroke="#9f527c" stroke-width="0.35"/>
<circle cx="200.6" cy="128.9" r="1.2" fill="#cd6a9f" stroke="#9f527c" stroke-width="0.35"/>
<circle cx="194.3" cy="119.8" r="1.2" fill="#cd6a9f" stroke="#9f527c" stroke-width="0.35"/>
<circle cx="197.4" cy="123.9" r="1.2" fill="#cd6a9f" stroke="#9f527c" stroke-width="0.35"/>
<circle cx="201.1" cy="129.1" r="1.2" fill="#cd6a9f" stroke="#9f527c" stroke-width="0.35"/>
<circle cx="197.9" cy="129.2" r="1.2" fill="#cd6a9f" stroke="#9f527c" stroke-width="0.35"/>
<circle cx="194.7" cy="121.6" r="1.2" fill="#cd6a9f" stroke="#9f527c" stroke-width="0.35"/>
<circle cx="201.7" cy="129.7" r="1.2" fill="#cd6a9f" stroke="#9f527c" stroke-width="0.35"/>
<circle cx="199.2" cy="120.9" r="1.2" fill="#cd6a9f" stroke="#9f527c" stroke-width="0.35"/>
<circle cx="201.0" cy="128.1" r="1.2" fill="#cd6a9f" stroke="#9f527c" stroke-width="0.35"/>
<circle cx="200.7" cy="122.6" r="1.2" fill="#cd6a9f" stroke="#9f527c" stroke-width="0.35"/>
<circle cx="198.0" cy="118.6" r="1.2" fill="#cd6a9f" stroke="#9f527c" stroke-width="0.35"/>
<circle cx="181.5" cy="107.5" r="1.2" fill="#cd6a9f" stroke="#9f527c" stroke-width="0.35"/>
<circle cx="184.5" cy="105.5" r="1.2" fill="#cd6a9f" stroke="#9f527c" stroke-width="0.35"/>
<circle cx="189.5" cy="104.5" r="1.2" fill="#cd6a9f" stroke="#9f527c" stroke-width="0.35"/>
<circle cx="183.5" cy="112.5" r="1.2" fill="#cd6a9f" stroke="#9f527c" stroke-width="0.35"/>
<circle cx="181.5" cy="123.0" r="1.2" fill="#cd6a9f" stroke="#9f527c" stroke-width="0.35"/>
<circle cx="184.0" cy="121.5" r="1.2" fill="#cd6a9f" stroke="#9f527c" stroke-width="0.35"/>
<circle cx="186.5" cy="125.0" r="1.2" fill="#cd6a9f" stroke="#9f527c" stroke-width="0.35"/>
<circle cx="188.0" cy="118.5" r="1.2" fill="#cd6a9f" stroke="#9f527c" stroke-width="0.35"/>
<circle cx="187.0" cy="127.5" r="1.2" fill="#cd6a9f" stroke="#9f527c" stroke-width="0.35"/>
<circle cx="191.0" cy="130.0" r="1.2" fill="#cd6a9f" stroke="#9f527c" stroke-width="0.35"/>
<circle cx="189.0" cy="114.0" r="1.2" fill="#cd6a9f" stroke="#9f527c" stroke-width="0.35"/>
<circle cx="191.0" cy="121.0" r="1.2" fill="#cd6a9f" stroke="#9f527c" stroke-width="0.35"/>
<circle cx="197.3" cy="133.0" r="1.2" fill="#987888" stroke="#765d6a" stroke-width="0.35"/>
<circle cx="199.8" cy="136.6" r="1.2" fill="#987888" stroke="#765d6a" stroke-width="0.35"/>
<circle cx="197.3" cy="132.4" r="1.2" fill="#987888" stroke="#765d6a" stroke-width="0.35"/>
<circle cx="198.9" cy="133.1" r="1.2" fill="#987888" stroke="#765d6a" stroke-width="0.35"/>
<circle cx="199.6" cy="135.8" r="1.2" fill="#987888" stroke="#765d6a" stroke-width="0.35"/>
<circle cx="196.7" cy="131.2" r="1.2" fill="#987888" stroke="#765d6a" stroke-width="0.35"/>
<circle cx="197.0" cy="127.5" r="1.1" fill="#2a2a4a" stroke="#202039" stroke-width="0.35"/>
<circle cx="199.0" cy="128.0" r="1.1" fill="#2a2a4a" stroke="#202039" stroke-width="0.35"/>
<circle cx="204.3" cy="125.6" r="1.2" fill="#cd6a9f" stroke="#9f527c" stroke-width="0.35"/>
<circle cx="202.9" cy="118.9" r="1.2" fill="#cd6a9f" stroke="#9f527c" stroke-width="0.35"/>
<circle cx="203.4" cy="123.8" r="1.2" fill="#cd6a9f" stroke="#9f527c" stroke-width="0.35"/>
<circle cx="203.4" cy="123.4" r="1.2" fill="#cd6a9f" stroke="#9f527c" stroke-width="0.35"/>
<circle cx="203.5" cy="124.1" r="1.2" fill="#cd6a9f" stroke="#9f527c" stroke-width="0.35"/>
<circle cx="203.3" cy="123.9" r="1.2" fill="#cd6a9f" stroke="#9f527c" stroke-width="0.35"/>
<circle cx="200.2" cy="123.8" r="1.2" fill="#cd6a9f" stroke="#9f527c" stroke-width="0.35"/>
<circle cx="202.2" cy="124.6" r="1.2" fill="#cd6a9f" stroke="#9f527c" stroke-width="0.35"/>
<circle cx="205.8" cy="123.7" r="1.2" fill="#cd6a9f" stroke="#9f527c" stroke-width="0.35"/>
<circle cx="201.5" cy="125.1" r="1.2" fill="#cd6a9f" stroke="#9f527c" stroke-width="0.35"/>
<circle cx="204.8" cy="123.0" r="1.2" fill="#cd6a9f" stroke="#9f527c" stroke-width="0.35"/>
<circle cx="200.6" cy="120.9" r="1.2" fill="#cd6a9f" stroke="#9f527c" stroke-width="0.35"/>
<circle cx="165.2" cy="41.5" r="2.8" fill="#cc1420" stroke="#8a0a10" stroke-width="0.35"/>
<circle cx="155.4" cy="59.9" r="2.8" fill="#cc1420" stroke="#8a0a10" stroke-width="0.35"/>
</g>
<text x="5" y="15.8" font-size="7.9" fill="#111" stroke="#111" stroke-width="0.12"><tspan font-weight="bold">Figure 1.</tspan><tspan font-style="italic"> UMAP of pediatric AML cohort (n = 939)</tspan></text>
<line x1="24.8" y1="25" x2="24.8" y2="202" stroke="#777" stroke-width="0.9"/>
<line x1="24.4" y1="201.8" x2="220.6" y2="201.8" stroke="#777" stroke-width="0.9"/>
<line x1="21.5" y1="59.3" x2="24.8" y2="59.3" stroke="#777" stroke-width="0.9"/>
<text x="19.0" y="61.699999999999996" font-size="7.2" font-weight="normal" font-style="normal" fill="#222" text-anchor="end" stroke="#222" stroke-width="0.15" >4</text>
<line x1="21.5" y1="103.5" x2="24.8" y2="103.5" stroke="#777" stroke-width="0.9"/>
<text x="19.0" y="105.9" font-size="7.2" font-weight="normal" font-style="normal" fill="#222" text-anchor="end" stroke="#222" stroke-width="0.15" >0</text>
<line x1="21.5" y1="147.9" x2="24.8" y2="147.9" stroke="#777" stroke-width="0.9"/>
<text x="19.0" y="150.3" font-size="7.2" font-weight="normal" font-style="normal" fill="#222" text-anchor="end" stroke="#222" stroke-width="0.15" >−4</text>
<line x1="72.6" y1="201.8" x2="72.6" y2="204.6" stroke="#777" stroke-width="0.9"/>
<text x="71.39999999999999" y="211.7" font-size="7.2" font-weight="normal" font-style="normal" fill="#222" text-anchor="middle" stroke="#222" stroke-width="0.15" >−5</text>
<line x1="127.7" y1="201.8" x2="127.7" y2="204.6" stroke="#777" stroke-width="0.9"/>
<text x="127.7" y="211.7" font-size="7.2" font-weight="normal" font-style="normal" fill="#222" text-anchor="middle" stroke="#222" stroke-width="0.15" >0</text>
<line x1="182.5" y1="201.8" x2="182.5" y2="204.6" stroke="#777" stroke-width="0.9"/>
<text x="182.7" y="211.7" font-size="7.2" font-weight="normal" font-style="normal" fill="#222" text-anchor="middle" stroke="#222" stroke-width="0.15" >5</text>
<text x="29.6" y="210.9" font-size="7.7" font-weight="normal" font-style="normal" fill="#222" text-anchor="start" stroke="#222" stroke-width="0.12" >UMAP1</text>
<text x="20.9" y="198.4" font-size="7.7" font-weight="normal" font-style="normal" fill="#222" text-anchor="start" stroke="#222" stroke-width="0.12" transform="rotate(-90 20.9 198.4)">UMAP2</text>
<text x="53" y="30.4" font-size="6.55" font-weight="normal" font-style="normal" fill="#222" text-anchor="start" stroke="#222" stroke-width="0.1" >UBTF tandem duplications in exon9 (n=2)</text>
<line x1="128" y1="33.5" x2="154" y2="58" stroke="#56607a" stroke-width="0.55"/>
<line x1="133.5" y1="33.5" x2="163" y2="40.8" stroke="#56607a" stroke-width="0.55"/>
<circle cx="223.1" cy="40" r="1.65" fill="#7fc3c6" stroke="#5b8c8e" stroke-width="0.5"/>
<text x="227" y="41.9" font-size="5.3" font-weight="normal" font-style="normal" fill="#3a3a3a" text-anchor="start" stroke="#3a3a3a" stroke-width="0.08" >CD34</text>
<circle cx="223.1" cy="46.1" r="1.65" fill="#d4649c" stroke="#984870" stroke-width="0.5"/>
<text x="227" y="48.0" font-size="5.3" font-weight="normal" font-style="italic" fill="#3a3a3a" text-anchor="start" stroke="#3a3a3a" stroke-width="0.08" >KMT2Ar</text>
<circle cx="223.1" cy="52.4" r="1.65" fill="#6a9a6a" stroke="#4c6e4c" stroke-width="0.5"/>
<text x="227" y="54.3" font-size="5.3" font-weight="normal" font-style="italic" fill="#3a3a3a" text-anchor="start" stroke="#3a3a3a" stroke-width="0.08" >RUNX1::RUNX1T1</text>
<circle cx="223.1" cy="58.6" r="1.65" fill="#1c3322" stroke="#142418" stroke-width="0.5"/>
<text x="227" y="60.5" font-size="5.3" font-weight="normal" font-style="italic" fill="#3a3a3a" text-anchor="start" stroke="#3a3a3a" stroke-width="0.08" >CBFB::MYH11</text>
<circle cx="223.1" cy="64.6" r="1.65" fill="#c8744a" stroke="#905335" stroke-width="0.5"/>
<text x="227" y="66.5" font-size="5.3" font-weight="normal" font-style="italic" fill="#3a3a3a" text-anchor="start" stroke="#3a3a3a" stroke-width="0.08" >NPM1</text>
<circle cx="223.1" cy="70.6" r="1.65" fill="#2c3c94" stroke="#1f2b6a" stroke-width="0.5"/>
<text x="227" y="72.5" font-size="5.3" font-weight="normal" font-style="italic" fill="#3a3a3a" text-anchor="start" stroke="#3a3a3a" stroke-width="0.08" >NUP98r</text>
<circle cx="223.1" cy="76.8" r="1.65" fill="#e6d442" stroke="#b8a868" stroke-width="0.5"/>
<text x="227" y="78.7" font-size="5.3" font-weight="normal" font-style="italic" fill="#3a3a3a" text-anchor="start" stroke="#3a3a3a" stroke-width="0.08" >UBTF</text>
<circle cx="223.1" cy="83.1" r="1.65" fill="#9cc46a" stroke="#708d4c" stroke-width="0.5"/>
<text x="227" y="85.0" font-size="5.3" font-weight="normal" font-style="italic" fill="#3a3a3a" text-anchor="start" stroke="#3a3a3a" stroke-width="0.08" >CEBPA</text>
<circle cx="223.1" cy="89.4" r="1.65" fill="#c81e3a" stroke="#901529" stroke-width="0.5"/>
<text x="227" y="91.30000000000001" font-size="5.3" font-weight="normal" font-style="italic" fill="#3a3a3a" text-anchor="start" stroke="#3a3a3a" stroke-width="0.08" >GLISr</text>
<circle cx="223.1" cy="95.7" r="1.65" fill="#1a7a78" stroke="#125756" stroke-width="0.5"/>
<text x="227" y="97.60000000000001" font-size="5.3" font-weight="normal" font-style="italic" fill="#3a3a3a" text-anchor="start" stroke="#3a3a3a" stroke-width="0.08" >ETS family</text>
<circle cx="223.1" cy="102.9" r="1.65" fill="#6e4030" stroke="#4f2e22" stroke-width="0.5"/>
<text x="227" y="104.80000000000001" font-size="5.3" font-weight="normal" font-style="italic" fill="#3a3a3a" text-anchor="start" stroke="#3a3a3a" stroke-width="0.08" >BCL11B</text>
<circle cx="223.1" cy="109.1" r="1.65" fill="#5a4a8a" stroke="#403563" stroke-width="0.5"/>
<text x="227" y="111.0" font-size="5.3" font-weight="normal" font-style="italic" fill="#3a3a3a" text-anchor="start" stroke="#3a3a3a" stroke-width="0.08" >MECOM</text>
<circle cx="223.1" cy="115.3" r="1.65" fill="#5a8a5a" stroke="#406340" stroke-width="0.5"/>
<text x="227" y="117.2" font-size="5.3" font-weight="normal" font-style="italic" fill="#3a3a3a" text-anchor="start" stroke="#3a3a3a" stroke-width="0.08" >DEK::NUP214</text>
<circle cx="223.1" cy="121.7" r="1.65" fill="#27473a" stroke="#1c3329" stroke-width="0.5"/>
<text x="227" y="123.60000000000001" font-size="5.3" font-weight="normal" font-style="italic" fill="#3a3a3a" text-anchor="start" stroke="#3a3a3a" stroke-width="0.08" >RBM15::MRTFA</text>
<circle cx="223.1" cy="127.9" r="1.65" fill="#111111" stroke="#0c0c0c" stroke-width="0.5"/>
<text x="227" y="129.8" font-size="5.3" font-weight="normal" font-style="italic" fill="#3a3a3a" text-anchor="start" stroke="#3a3a3a" stroke-width="0.08" >PICALM::MLLT10</text>
<circle cx="223.1" cy="133.9" r="1.65" fill="#b08a8a" stroke="#7e6363" stroke-width="0.5"/>
<text x="227" y="135.8" font-size="5.3" font-weight="normal" font-style="italic" fill="#3a3a3a" text-anchor="start" stroke="#3a3a3a" stroke-width="0.08" >KAT6Ar</text>
<circle cx="223.1" cy="140" r="1.65" fill="#d4b030" stroke="#987e22" stroke-width="0.5"/>
<text x="227" y="141.9" font-size="5.3" font-weight="normal" font-style="italic" fill="#3a3a3a" text-anchor="start" stroke="#3a3a3a" stroke-width="0.08" >MNX1</text>
<circle cx="223.1" cy="145.9" r="1.65" fill="#9ab08a" stroke="#6e7e63" stroke-width="0.5"/>
<text x="227" y="147.8" font-size="5.3" font-weight="normal" font-style="italic" fill="#3a3a3a" text-anchor="start" stroke="#3a3a3a" stroke-width="0.08" >RUNX1::RUNX1T1-like</text>
<circle cx="223.1" cy="152.3" r="1.65" fill="#8aa05a" stroke="#637340" stroke-width="0.5"/>
<text x="227" y="154.20000000000002" font-size="5.3" font-weight="normal" font-style="italic" fill="#3a3a3a" text-anchor="start" stroke="#3a3a3a" stroke-width="0.08" >CBFB-GDXY</text>
<circle cx="223.1" cy="158.6" r="1.65" fill="#b0a070" stroke="#7e7350" stroke-width="0.5"/>
<text x="227" y="160.5" font-size="5.3" font-weight="normal" font-style="italic" fill="#3a3a3a" text-anchor="start" stroke="#3a3a3a" stroke-width="0.08" >APL</text>
<circle cx="223.1" cy="164.8" r="1.65" fill="#4a8ab0" stroke="#35637e" stroke-width="0.5"/>
<text x="227" y="166.70000000000002" font-size="5.3" font-weight="normal" font-style="italic" fill="#3a3a3a" text-anchor="start" stroke="#3a3a3a" stroke-width="0.08" >BCR::ABL1</text>
<circle cx="223.1" cy="170.9" r="1.65" fill="#8a1a2a" stroke="#63121e" stroke-width="0.5"/>
<text x="227" y="172.8" font-size="5.3" font-weight="normal" font-style="italic" fill="#3a3a3a" text-anchor="start" stroke="#3a3a3a" stroke-width="0.08" >GATA1</text>
<circle cx="223.1" cy="177.2" r="1.65" fill="#d09040" stroke="#95672e" stroke-width="0.5"/>
<text x="227" y="179.1" font-size="5.3" font-weight="normal" font-style="italic" fill="#3a3a3a" text-anchor="start" stroke="#3a3a3a" stroke-width="0.08" >HOXr</text>
<circle cx="223.1" cy="183.5" r="1.65" fill="#f4eedc" stroke="#b8a868" stroke-width="0.5"/>
<text x="227" y="185.4" font-size="5.3" font-weight="normal" font-style="italic" fill="#3a3a3a" text-anchor="start" stroke="#3a3a3a" stroke-width="0.08" >KMT2A-PTD</text>
<circle cx="223.1" cy="189.7" r="1.65" fill="#9a90a0" stroke="#6e6773" stroke-width="0.5"/>
<text x="227" y="191.6" font-size="5.3" font-weight="normal" font-style="normal" fill="#3a3a3a" text-anchor="start" stroke="#3a3a3a" stroke-width="0.08" >Unclassified</text>
<text x="280.8" y="15.2" font-size="7.85" fill="#111" stroke="#111" stroke-width="0.12"><tspan font-weight="bold">Figure 2.</tspan><tspan font-style="italic"> Characterization of UBTF Exon 9 Tandem Duplications</tspan></text>
<rect x="318.5" y="31.9" width="6.5" height="6.2" fill="#7eaed6"/>
<text x="326.5" y="37.2" font-size="5.2" font-weight="normal" font-style="normal" fill="#333" text-anchor="start" >HMG Box</text>
<text x="353.2" y="36.9" font-size="4.8" font-weight="bold" font-style="normal" fill="#222" text-anchor="start" >UBTF</text>
<text x="368.2" y="43.2" font-size="5.2" font-weight="normal" font-style="normal" fill="#333" text-anchor="end" >NM_014233</text>
<rect x="370.8" y="32.8" width="3.40" height="9.5" fill="#ffffff" stroke="#aaa" stroke-width="0.35"/>
<rect x="374.2" y="32.8" width="9.30" height="9.5" fill="#ffffff" stroke="#aaa" stroke-width="0.35"/>
<rect x="383.5" y="32.8" width="5.50" height="9.5" fill="#ffffff" stroke="#aaa" stroke-width="0.35"/>
<rect x="389" y="32.8" width="11.00" height="9.5" fill="#6fa3cf" stroke="#aaa" stroke-width="0.35"/>
<rect x="400" y="32.8" width="1.50" height="9.5" fill="#ffffff" stroke="#aaa" stroke-width="0.35"/>
<rect x="401.5" y="32.8" width="10.50" height="9.5" fill="#6fa3cf" stroke="#aaa" stroke-width="0.35"/>
<rect x="412" y="32.8" width="6.00" height="9.5" fill="#ffffff" stroke="#aaa" stroke-width="0.35"/>
<rect x="418" y="32.8" width="10.50" height="9.5" fill="#6fa3cf" stroke="#aaa" stroke-width="0.35"/>
<rect x="428.5" y="32.8" width="7.50" height="9.5" fill="#ffffff" stroke="#aaa" stroke-width="0.35"/>
<rect x="436" y="32.8" width="10.20" height="9.5" fill="#6fa3cf" stroke="#aaa" stroke-width="0.35"/>
<rect x="446.2" y="32.8" width="1.50" height="9.5" fill="#ffffff" stroke="#aaa" stroke-width="0.35"/>
<rect x="447.7" y="32.8" width="12.30" height="9.5" fill="#6fa3cf" stroke="#aaa" stroke-width="0.35"/>
<rect x="460" y="32.8" width="1.50" height="9.5" fill="#ffffff" stroke="#aaa" stroke-width="0.35"/>
<rect x="461.5" y="32.8" width="9.70" height="9.5" fill="#6fa3cf" stroke="#aaa" stroke-width="0.35"/>
<rect x="471.2" y="32.8" width="3.40" height="9.5" fill="#ffffff" stroke="#aaa" stroke-width="0.35"/>
<rect x="474.6" y="32.8" width="10.80" height="9.5" fill="#ffffff" stroke="#aaa" stroke-width="0.35"/>
<rect x="485.4" y="32.8" width="7.40" height="9.5" fill="#ffffff" stroke="#aaa" stroke-width="0.35"/>
<rect x="370.8" y="32.8" width="122" height="9.5" fill="none" stroke="#999" stroke-width="0.5"/>
<text x="387.3" y="32.3" font-size="2.8" font-weight="normal" font-style="normal" fill="#444" text-anchor="middle" >100</text>
<text x="402.7" y="32.3" font-size="2.8" font-weight="normal" font-style="normal" fill="#444" text-anchor="middle" >200</text>
<text x="418.2" y="32.3" font-size="2.8" font-weight="normal" font-style="normal" fill="#444" text-anchor="middle" >300</text>
<text x="433.9" y="32.3" font-size="2.8" font-weight="normal" font-style="normal" fill="#444" text-anchor="middle" >400</text>
<text x="449.5" y="32.3" font-size="2.8" font-weight="normal" font-style="normal" fill="#444" text-anchor="middle" >500</text>
<text x="465.2" y="32.3" font-size="2.8" font-weight="normal" font-style="normal" fill="#444" text-anchor="middle" >600</text>
<text x="480.8" y="32.3" font-size="2.8" font-weight="normal" font-style="normal" fill="#444" text-anchor="middle" >700</text>
<line x1="412.7" y1="43.5" x2="416.5" y2="43.5" stroke="#c0282e" stroke-width="1"/>
<line x1="438.3" y1="43.3" x2="441.7" y2="43.3" stroke="#c0282e" stroke-width="1"/>
<line x1="334.3" y1="55.8" x2="412.7" y2="43.9" stroke="#c0282e" stroke-width="0.6" stroke-dasharray="1,0.8"/>
<line x1="416.5" y1="43.9" x2="421.5" y2="57.5" stroke="#c0282e" stroke-width="0.6" stroke-dasharray="1,0.8"/>
<text x="428.3" y="49" font-size="4.3" font-weight="normal" font-style="normal" fill="#c0282e" text-anchor="start" stroke="#c0282e" stroke-width="0.1" >...LTRLLARM...</text>
<text x="331.5" y="61.9" font-size="4.4" font-weight="normal" font-style="normal" fill="#222" text-anchor="end" stroke="#222" stroke-width="0.12" >WT</text>
<text x="334.2" y="61.9" font-size="4.4" fill="#222" stroke-width="0.12"><tspan fill="#222" stroke="#222">NISEEGITKSTLTKAERQLKDKFDGRPTKPP</tspan></text>
<text x="331.5" y="69.1" font-size="4.4" font-weight="normal" font-style="normal" fill="#222" text-anchor="end" stroke="#222" stroke-width="0.12" >e9 TD76</text>
<text x="334.2" y="69.1" font-size="4.4" fill="#222" stroke-width="0.12"><tspan fill="#222" stroke="#222">NISEEGITKSTLT</tspan><tspan fill="#c8282e" stroke="#c8282e">KAERQLKDKFDGLTISE</tspan><tspan fill="#222" stroke="#222">......KFDGRPTKPP</tspan></text>
<text x="331.5" y="76.7" font-size="4.4" font-weight="normal" font-style="normal" fill="#222" text-anchor="end" stroke="#222" stroke-width="0.12" >e9 TD153</text>
<text x="334.2" y="76.7" font-size="4.4" fill="#222" stroke-width="0.12"><tspan fill="#222" stroke="#222">NISEEGITKSTLT</tspan><tspan fill="#c8282e" stroke="#c8282e">KAERQLKDKFDGLNISE</tspan><tspan fill="#222" stroke="#222">...</tspan><tspan fill="#c8282e" stroke="#c8282e">TKAERQLKDKFDGLNISE</tspan><tspan fill="#222" stroke="#222">...KFDGRPTKPP</tspan></text>
<filter id="hb" x="-5%" y="-5%" width="110%" height="110%"><feGaussianBlur stdDeviation="0.35"/></filter><g stroke="#c4c4c4" stroke-width="0.22" filter="url(#hb)">
<rect x="338.70" y="93.00" width="4.93" height="3.40" fill="#f6f1f0"/>
<rect x="343.63" y="93.00" width="4.93" height="3.40" fill="#e8eff4"/>
<rect x="348.57" y="93.00" width="4.93" height="3.40" fill="#fad5c6"/>
<rect x="353.50" y="93.00" width="4.93" height="3.40" fill="#f8ebe6"/>
<rect x="358.43" y="93.00" width="4.93" height="3.40" fill="#ef8f71"/>
<rect x="363.37" y="93.00" width="4.93" height="3.40" fill="#f5b29b"/>
<rect x="368.30" y="93.00" width="4.93" height="3.40" fill="#fadfd4"/>
<rect x="373.23" y="93.00" width="4.93" height="3.40" fill="#ea8367"/>
<rect x="378.16" y="93.00" width="4.93" height="3.40" fill="#ef8f71"/>
<rect x="383.10" y="93.00" width="4.93" height="3.40" fill="#f6f6f6"/>
<rect x="388.03" y="93.00" width="4.93" height="3.40" fill="#e8eff4"/>
<rect x="392.96" y="93.00" width="4.93" height="3.40" fill="#89b9d8"/>
<rect x="397.90" y="93.00" width="4.93" height="3.40" fill="#f8c3b0"/>
<rect x="402.83" y="93.00" width="4.93" height="3.40" fill="#d86152"/>
<rect x="407.76" y="93.00" width="4.93" height="3.40" fill="#f2a086"/>
<rect x="412.69" y="93.00" width="4.93" height="3.40" fill="#fad5c6"/>
<rect x="417.63" y="93.00" width="4.93" height="3.40" fill="#f5b29b"/>
<rect x="422.56" y="93.00" width="4.93" height="3.40" fill="#f8ebe6"/>
<rect x="427.49" y="93.00" width="4.93" height="3.40" fill="#f9e5dd"/>
<rect x="432.43" y="93.00" width="4.93" height="3.40" fill="#f5b29b"/>
<rect x="437.36" y="93.00" width="4.93" height="3.40" fill="#4381b8"/>
<rect x="338.70" y="96.40" width="4.93" height="3.40" fill="#f6f6f6"/>
<rect x="343.63" y="96.40" width="4.93" height="3.40" fill="#e0ebf2"/>
<rect x="348.57" y="96.40" width="4.93" height="3.40" fill="#fad5c6"/>
<rect x="353.50" y="96.40" width="4.93" height="3.40" fill="#f9e5dd"/>
<rect x="358.43" y="96.40" width="4.93" height="3.40" fill="#ef8f71"/>
<rect x="363.37" y="96.40" width="4.93" height="3.40" fill="#f7bca7"/>
<rect x="368.30" y="96.40" width="4.93" height="3.40" fill="#f9e5dd"/>
<rect x="373.23" y="96.40" width="4.93" height="3.40" fill="#e57961"/>
<rect x="378.16" y="96.40" width="4.93" height="3.40" fill="#ef8f71"/>
<rect x="383.10" y="96.40" width="4.93" height="3.40" fill="#f0f3f5"/>
<rect x="388.03" y="96.40" width="4.93" height="3.40" fill="#e0ebf2"/>
<rect x="392.96" y="96.40" width="4.93" height="3.40" fill="#89b9d8"/>
<rect x="397.90" y="96.40" width="4.93" height="3.40" fill="#f5b29b"/>
<rect x="402.83" y="96.40" width="4.93" height="3.40" fill="#d1524a"/>
<rect x="407.76" y="96.40" width="4.93" height="3.40" fill="#f2a086"/>
<rect x="412.69" y="96.40" width="4.93" height="3.40" fill="#fad5c6"/>
<rect x="417.63" y="96.40" width="4.93" height="3.40" fill="#f5b29b"/>
<rect x="422.56" y="96.40" width="4.93" height="3.40" fill="#f8ebe6"/>
<rect x="427.49" y="96.40" width="4.93" height="3.40" fill="#f9e5dd"/>
<rect x="432.43" y="96.40" width="4.93" height="3.40" fill="#f5b29b"/>
<rect x="437.36" y="96.40" width="4.93" height="3.40" fill="#4381b8"/>
<rect x="338.70" y="99.80" width="4.93" height="3.40" fill="#f6f1f0"/>
<rect x="343.63" y="99.80" width="4.93" height="3.40" fill="#e8eff4"/>
<rect x="348.57" y="99.80" width="4.93" height="3.40" fill="#f8c3b0"/>
<rect x="353.50" y="99.80" width="4.93" height="3.40" fill="#f8ebe6"/>
<rect x="358.43" y="99.80" width="4.93" height="3.40" fill="#ea8367"/>
<rect x="363.37" y="99.80" width="4.93" height="3.40" fill="#f5b29b"/>
<rect x="368.30" y="99.80" width="4.93" height="3.40" fill="#f9e5dd"/>
<rect x="373.23" y="99.80" width="4.93" height="3.40" fill="#e06f5b"/>
<rect x="378.16" y="99.80" width="4.93" height="3.40" fill="#ef8f71"/>
<rect x="383.10" y="99.80" width="4.93" height="3.40" fill="#f0f3f5"/>
<rect x="388.03" y="99.80" width="4.93" height="3.40" fill="#d8e7f0"/>
<rect x="392.96" y="99.80" width="4.93" height="3.40" fill="#72abd1"/>
<rect x="397.90" y="99.80" width="4.93" height="3.40" fill="#f2a086"/>
<rect x="402.83" y="99.80" width="4.93" height="3.40" fill="#cc4944"/>
<rect x="407.76" y="99.80" width="4.93" height="3.40" fill="#f1997d"/>
<rect x="412.69" y="99.80" width="4.93" height="3.40" fill="#fad5c6"/>
<rect x="417.63" y="99.80" width="4.93" height="3.40" fill="#f5b29b"/>
<rect x="422.56" y="99.80" width="4.93" height="3.40" fill="#f6f1f0"/>
<rect x="427.49" y="99.80" width="4.93" height="3.40" fill="#f8ebe6"/>
<rect x="432.43" y="99.80" width="4.93" height="3.40" fill="#f8c3b0"/>
<rect x="437.36" y="99.80" width="4.93" height="3.40" fill="#4381b8"/>
<rect x="338.70" y="103.20" width="4.93" height="3.40" fill="#f6f6f6"/>
<rect x="343.63" y="103.20" width="4.93" height="3.40" fill="#f0f3f5"/>
<rect x="348.57" y="103.20" width="4.93" height="3.40" fill="#f5b29b"/>
<rect x="353.50" y="103.20" width="4.93" height="3.40" fill="#f8ebe6"/>
<rect x="358.43" y="103.20" width="4.93" height="3.40" fill="#e57961"/>
<rect x="363.37" y="103.20" width="4.93" height="3.40" fill="#f3a78e"/>
<rect x="368.30" y="103.20" width="4.93" height="3.40" fill="#fadfd4"/>
<rect x="373.23" y="103.20" width="4.93" height="3.40" fill="#d86152"/>
<rect x="378.16" y="103.20" width="4.93" height="3.40" fill="#e57961"/>
<rect x="383.10" y="103.20" width="4.93" height="3.40" fill="#e8eff4"/>
<rect x="388.03" y="103.20" width="4.93" height="3.40" fill="#cbe0ed"/>
<rect x="392.96" y="103.20" width="4.93" height="3.40" fill="#89b9d8"/>
<rect x="397.90" y="103.20" width="4.93" height="3.40" fill="#ea8367"/>
<rect x="402.83" y="103.20" width="4.93" height="3.40" fill="#b82e35"/>
<rect x="407.76" y="103.20" width="4.93" height="3.40" fill="#f2a086"/>
<rect x="412.69" y="103.20" width="4.93" height="3.40" fill="#fadfd4"/>
<rect x="417.63" y="103.20" width="4.93" height="3.40" fill="#f8c3b0"/>
<rect x="422.56" y="103.20" width="4.93" height="3.40" fill="#f6f1f0"/>
<rect x="427.49" y="103.20" width="4.93" height="3.40" fill="#f6f1f0"/>
<rect x="432.43" y="103.20" width="4.93" height="3.40" fill="#f8c3b0"/>
<rect x="437.36" y="103.20" width="4.93" height="3.40" fill="#4381b8"/>
<rect x="338.70" y="106.60" width="4.93" height="3.40" fill="#f0f3f5"/>
<rect x="343.63" y="106.60" width="4.93" height="3.40" fill="#e8eff4"/>
<rect x="348.57" y="106.60" width="4.93" height="3.40" fill="#f5b29b"/>
<rect x="353.50" y="106.60" width="4.93" height="3.40" fill="#f9e5dd"/>
<rect x="358.43" y="106.60" width="4.93" height="3.40" fill="#ea8367"/>
<rect x="363.37" y="106.60" width="4.93" height="3.40" fill="#f5b29b"/>
<rect x="368.30" y="106.60" width="4.93" height="3.40" fill="#f9e5dd"/>
<rect x="373.23" y="106.60" width="4.93" height="3.40" fill="#d1524a"/>
<rect x="378.16" y="106.60" width="4.93" height="3.40" fill="#e57961"/>
<rect x="383.10" y="106.60" width="4.93" height="3.40" fill="#d8e7f0"/>
<rect x="388.03" y="106.60" width="4.93" height="3.40" fill="#b5d3e6"/>
<rect x="392.96" y="106.60" width="4.93" height="3.40" fill="#72abd1"/>
<rect x="397.90" y="106.60" width="4.93" height="3.40" fill="#ea8367"/>
<rect x="402.83" y="106.60" width="4.93" height="3.40" fill="#ae202e"/>
<rect x="407.76" y="106.60" width="4.93" height="3.40" fill="#f2a086"/>
<rect x="412.69" y="106.60" width="4.93" height="3.40" fill="#fadfd4"/>
<rect x="417.63" y="106.60" width="4.93" height="3.40" fill="#f5b29b"/>
<rect x="422.56" y="106.60" width="4.93" height="3.40" fill="#f6f6f6"/>
<rect x="427.49" y="106.60" width="4.93" height="3.40" fill="#f6f6f6"/>
<rect x="432.43" y="106.60" width="4.93" height="3.40" fill="#f6f1f0"/>
<rect x="437.36" y="106.60" width="4.93" height="3.40" fill="#4381b8"/>
<rect x="338.70" y="110.00" width="4.93" height="3.40" fill="#e8eff4"/>
<rect x="343.63" y="110.00" width="4.93" height="3.40" fill="#f6f6f6"/>
<rect x="348.57" y="110.00" width="4.93" height="3.40" fill="#f5b29b"/>
<rect x="353.50" y="110.00" width="4.93" height="3.40" fill="#f8ebe6"/>
<rect x="358.43" y="110.00" width="4.93" height="3.40" fill="#ef8f71"/>
<rect x="363.37" y="110.00" width="4.93" height="3.40" fill="#f7bca7"/>
<rect x="368.30" y="110.00" width="4.93" height="3.40" fill="#f8ebe6"/>
<rect x="373.23" y="110.00" width="4.93" height="3.40" fill="#d86152"/>
<rect x="378.16" y="110.00" width="4.93" height="3.40" fill="#ea8367"/>
<rect x="383.10" y="110.00" width="4.93" height="3.40" fill="#cbe0ed"/>
<rect x="388.03" y="110.00" width="4.93" height="3.40" fill="#9fc6df"/>
<rect x="392.96" y="110.00" width="4.93" height="3.40" fill="#9fc6df"/>
<rect x="397.90" y="110.00" width="4.93" height="3.40" fill="#f2a086"/>
<rect x="402.83" y="110.00" width="4.93" height="3.40" fill="#cc4944"/>
<rect x="407.76" y="110.00" width="4.93" height="3.40" fill="#f5b29b"/>
<rect x="412.69" y="110.00" width="4.93" height="3.40" fill="#fad5c6"/>
<rect x="417.63" y="110.00" width="4.93" height="3.40" fill="#f8c3b0"/>
<rect x="422.56" y="110.00" width="4.93" height="3.40" fill="#9fc6df"/>
<rect x="427.49" y="110.00" width="4.93" height="3.40" fill="#89b9d8"/>
<rect x="432.43" y="110.00" width="4.93" height="3.40" fill="#f6f6f6"/>
<rect x="437.36" y="110.00" width="4.93" height="3.40" fill="#4381b8"/>
<rect x="338.70" y="113.40" width="4.93" height="3.40" fill="#f0f3f5"/>
<rect x="343.63" y="113.40" width="4.93" height="3.40" fill="#f6f6f6"/>
<rect x="348.57" y="113.40" width="4.93" height="3.40" fill="#f8c3b0"/>
<rect x="353.50" y="113.40" width="4.93" height="3.40" fill="#e8eff4"/>
<rect x="358.43" y="113.40" width="4.93" height="3.40" fill="#f1997d"/>
<rect x="363.37" y="113.40" width="4.93" height="3.40" fill="#f8c3b0"/>
<rect x="368.30" y="113.40" width="4.93" height="3.40" fill="#f6f6f6"/>
<rect x="373.23" y="113.40" width="4.93" height="3.40" fill="#d86152"/>
<rect x="378.16" y="113.40" width="4.93" height="3.40" fill="#e57961"/>
<rect x="383.10" y="113.40" width="4.93" height="3.40" fill="#d8e7f0"/>
<rect x="388.03" y="113.40" width="4.93" height="3.40" fill="#b5d3e6"/>
<rect x="392.96" y="113.40" width="4.93" height="3.40" fill="#89b9d8"/>
<rect x="397.90" y="113.40" width="4.93" height="3.40" fill="#f2a086"/>
<rect x="402.83" y="113.40" width="4.93" height="3.40" fill="#d86152"/>
<rect x="407.76" y="113.40" width="4.93" height="3.40" fill="#f2a086"/>
<rect x="412.69" y="113.40" width="4.93" height="3.40" fill="#fad5c6"/>
<rect x="417.63" y="113.40" width="4.93" height="3.40" fill="#fad5c6"/>
<rect x="422.56" y="113.40" width="4.93" height="3.40" fill="#9fc6df"/>
<rect x="427.49" y="113.40" width="4.93" height="3.40" fill="#72abd1"/>
<rect x="432.43" y="113.40" width="4.93" height="3.40" fill="#f6f6f6"/>
<rect x="437.36" y="113.40" width="4.93" height="3.40" fill="#4381b8"/>
<rect x="338.70" y="116.80" width="4.93" height="3.40" fill="#f6f6f6"/>
<rect x="343.63" y="116.80" width="4.93" height="3.40" fill="#f6f1f0"/>
<rect x="348.57" y="116.80" width="4.93" height="3.40" fill="#fad5c6"/>
<rect x="353.50" y="116.80" width="4.93" height="3.40" fill="#f6f1f0"/>
<rect x="358.43" y="116.80" width="4.93" height="3.40" fill="#f2a086"/>
<rect x="363.37" y="116.80" width="4.93" height="3.40" fill="#f8c3b0"/>
<rect x="368.30" y="116.80" width="4.93" height="3.40" fill="#f6f6f6"/>
<rect x="373.23" y="116.80" width="4.93" height="3.40" fill="#dd6b58"/>
<rect x="378.16" y="116.80" width="4.93" height="3.40" fill="#ef8f71"/>
<rect x="383.10" y="116.80" width="4.93" height="3.40" fill="#e8eff4"/>
<rect x="388.03" y="116.80" width="4.93" height="3.40" fill="#b5d3e6"/>
<rect x="392.96" y="116.80" width="4.93" height="3.40" fill="#72abd1"/>
<rect x="397.90" y="116.80" width="4.93" height="3.40" fill="#f5b29b"/>
<rect x="402.83" y="116.80" width="4.93" height="3.40" fill="#e06f5b"/>
<rect x="407.76" y="116.80" width="4.93" height="3.40" fill="#f5b29b"/>
<rect x="412.69" y="116.80" width="4.93" height="3.40" fill="#fadfd4"/>
<rect x="417.63" y="116.80" width="4.93" height="3.40" fill="#fad5c6"/>
<rect x="422.56" y="116.80" width="4.93" height="3.40" fill="#d8e7f0"/>
<rect x="427.49" y="116.80" width="4.93" height="3.40" fill="#3672ae"/>
<rect x="432.43" y="116.80" width="4.93" height="3.40" fill="#f6f6f6"/>
<rect x="437.36" y="116.80" width="4.93" height="3.40" fill="#4381b8"/>
<rect x="338.70" y="120.20" width="4.93" height="3.40" fill="#89b9d8"/>
<rect x="343.63" y="120.20" width="4.93" height="3.40" fill="#5f9eca"/>
<rect x="348.57" y="120.20" width="4.93" height="3.40" fill="#72abd1"/>
<rect x="353.50" y="120.20" width="4.93" height="3.40" fill="#5f9eca"/>
<rect x="358.43" y="120.20" width="4.93" height="3.40" fill="#72abd1"/>
<rect x="363.37" y="120.20" width="4.93" height="3.40" fill="#5090c2"/>
<rect x="368.30" y="120.20" width="4.93" height="3.40" fill="#5090c2"/>
<rect x="373.23" y="120.20" width="4.93" height="3.40" fill="#72abd1"/>
<rect x="378.16" y="120.20" width="4.93" height="3.40" fill="#72abd1"/>
<rect x="383.10" y="120.20" width="4.93" height="3.40" fill="#5090c2"/>
<rect x="388.03" y="120.20" width="4.93" height="3.40" fill="#5090c2"/>
<rect x="392.96" y="120.20" width="4.93" height="3.40" fill="#3672ae"/>
<rect x="397.90" y="120.20" width="4.93" height="3.40" fill="#cbe0ed"/>
<rect x="402.83" y="120.20" width="4.93" height="3.40" fill="#d8e7f0"/>
<rect x="407.76" y="120.20" width="4.93" height="3.40" fill="#cbe0ed"/>
<rect x="412.69" y="120.20" width="4.93" height="3.40" fill="#5f9eca"/>
<rect x="417.63" y="120.20" width="4.93" height="3.40" fill="#72abd1"/>
<rect x="422.56" y="120.20" width="4.93" height="3.40" fill="#5f9eca"/>
<rect x="427.49" y="120.20" width="4.93" height="3.40" fill="#5090c2"/>
<rect x="432.43" y="120.20" width="4.93" height="3.40" fill="#5f9eca"/>
<rect x="437.36" y="120.20" width="4.93" height="3.40" fill="#4381b8"/>
<rect x="338.70" y="123.60" width="4.93" height="3.40" fill="#d8e7f0"/>
<rect x="343.63" y="123.60" width="4.93" height="3.40" fill="#5f9eca"/>
<rect x="348.57" y="123.60" width="4.93" height="3.40" fill="#b5d3e6"/>
<rect x="353.50" y="123.60" width="4.93" height="3.40" fill="#72abd1"/>
<rect x="358.43" y="123.60" width="4.93" height="3.40" fill="#d8e7f0"/>
<rect x="363.37" y="123.60" width="4.93" height="3.40" fill="#3672ae"/>
<rect x="368.30" y="123.60" width="4.93" height="3.40" fill="#5f9eca"/>
<rect x="373.23" y="123.60" width="4.93" height="3.40" fill="#cbe0ed"/>
<rect x="378.16" y="123.60" width="4.93" height="3.40" fill="#d8e7f0"/>
<rect x="383.10" y="123.60" width="4.93" height="3.40" fill="#5090c2"/>
<rect x="388.03" y="123.60" width="4.93" height="3.40" fill="#5090c2"/>
<rect x="392.96" y="123.60" width="4.93" height="3.40" fill="#3672ae"/>
<rect x="397.90" y="123.60" width="4.93" height="3.40" fill="#d8e7f0"/>
<rect x="402.83" y="123.60" width="4.93" height="3.40" fill="#e0ebf2"/>
<rect x="407.76" y="123.60" width="4.93" height="3.40" fill="#d8e7f0"/>
<rect x="412.69" y="123.60" width="4.93" height="3.40" fill="#5f9eca"/>
<rect x="417.63" y="123.60" width="4.93" height="3.40" fill="#5f9eca"/>
<rect x="422.56" y="123.60" width="4.93" height="3.40" fill="#5090c2"/>
<rect x="427.49" y="123.60" width="4.93" height="3.40" fill="#5f9eca"/>
<rect x="432.43" y="123.60" width="4.93" height="3.40" fill="#5f9eca"/>
<rect x="437.36" y="123.60" width="4.93" height="3.40" fill="#4381b8"/>
<rect x="338.70" y="127.00" width="4.93" height="3.40" fill="#b5d3e6"/>
<rect x="343.63" y="127.00" width="4.93" height="3.40" fill="#5090c2"/>
<rect x="348.57" y="127.00" width="4.93" height="3.40" fill="#89b9d8"/>
<rect x="353.50" y="127.00" width="4.93" height="3.40" fill="#b5d3e6"/>
<rect x="358.43" y="127.00" width="4.93" height="3.40" fill="#e0ebf2"/>
<rect x="363.37" y="127.00" width="4.93" height="3.40" fill="#4381b8"/>
<rect x="368.30" y="127.00" width="4.93" height="3.40" fill="#4381b8"/>
<rect x="373.23" y="127.00" width="4.93" height="3.40" fill="#d8e7f0"/>
<rect x="378.16" y="127.00" width="4.93" height="3.40" fill="#cbe0ed"/>
<rect x="383.10" y="127.00" width="4.93" height="3.40" fill="#5f9eca"/>
<rect x="388.03" y="127.00" width="4.93" height="3.40" fill="#4381b8"/>
<rect x="392.96" y="127.00" width="4.93" height="3.40" fill="#3672ae"/>
<rect x="397.90" y="127.00" width="4.93" height="3.40" fill="#e0ebf2"/>
<rect x="402.83" y="127.00" width="4.93" height="3.40" fill="#d8e7f0"/>
<rect x="407.76" y="127.00" width="4.93" height="3.40" fill="#cbe0ed"/>
<rect x="412.69" y="127.00" width="4.93" height="3.40" fill="#5090c2"/>
<rect x="417.63" y="127.00" width="4.93" height="3.40" fill="#72abd1"/>
<rect x="422.56" y="127.00" width="4.93" height="3.40" fill="#5f9eca"/>
<rect x="427.49" y="127.00" width="4.93" height="3.40" fill="#5090c2"/>
<rect x="432.43" y="127.00" width="4.93" height="3.40" fill="#5090c2"/>
<rect x="437.36" y="127.00" width="4.93" height="3.40" fill="#4381b8"/>
<rect x="338.70" y="130.40" width="4.93" height="3.40" fill="#d8e7f0"/>
<rect x="343.63" y="130.40" width="4.93" height="3.40" fill="#5f9eca"/>
<rect x="348.57" y="130.40" width="4.93" height="3.40" fill="#9fc6df"/>
<rect x="353.50" y="130.40" width="4.93" height="3.40" fill="#72abd1"/>
<rect x="358.43" y="130.40" width="4.93" height="3.40" fill="#cbe0ed"/>
<rect x="363.37" y="130.40" width="4.93" height="3.40" fill="#4381b8"/>
<rect x="368.30" y="130.40" width="4.93" height="3.40" fill="#5090c2"/>
<rect x="373.23" y="130.40" width="4.93" height="3.40" fill="#b5d3e6"/>
<rect x="378.16" y="130.40" width="4.93" height="3.40" fill="#d8e7f0"/>
<rect x="383.10" y="130.40" width="4.93" height="3.40" fill="#5090c2"/>
<rect x="388.03" y="130.40" width="4.93" height="3.40" fill="#5090c2"/>
<rect x="392.96" y="130.40" width="4.93" height="3.40" fill="#3672ae"/>
<rect x="397.90" y="130.40" width="4.93" height="3.40" fill="#d8e7f0"/>
<rect x="402.83" y="130.40" width="4.93" height="3.40" fill="#e0ebf2"/>
<rect x="407.76" y="130.40" width="4.93" height="3.40" fill="#d8e7f0"/>
<rect x="412.69" y="130.40" width="4.93" height="3.40" fill="#5f9eca"/>
<rect x="417.63" y="130.40" width="4.93" height="3.40" fill="#5f9eca"/>
<rect x="422.56" y="130.40" width="4.93" height="3.40" fill="#5090c2"/>
<rect x="427.49" y="130.40" width="4.93" height="3.40" fill="#5f9eca"/>
<rect x="432.43" y="130.40" width="4.93" height="3.40" fill="#5f9eca"/>
<rect x="437.36" y="130.40" width="4.93" height="3.40" fill="#4381b8"/>
<rect x="338.70" y="133.80" width="4.93" height="3.40" fill="#cbe0ed"/>
<rect x="343.63" y="133.80" width="4.93" height="3.40" fill="#5f9eca"/>
<rect x="348.57" y="133.80" width="4.93" height="3.40" fill="#b5d3e6"/>
<rect x="353.50" y="133.80" width="4.93" height="3.40" fill="#89b9d8"/>
<rect x="358.43" y="133.80" width="4.93" height="3.40" fill="#b5d3e6"/>
<rect x="363.37" y="133.80" width="4.93" height="3.40" fill="#4381b8"/>
<rect x="368.30" y="133.80" width="4.93" height="3.40" fill="#5f9eca"/>
<rect x="373.23" y="133.80" width="4.93" height="3.40" fill="#cbe0ed"/>
<rect x="378.16" y="133.80" width="4.93" height="3.40" fill="#b5d3e6"/>
<rect x="383.10" y="133.80" width="4.93" height="3.40" fill="#5f9eca"/>
<rect x="388.03" y="133.80" width="4.93" height="3.40" fill="#4381b8"/>
<rect x="392.96" y="133.80" width="4.93" height="3.40" fill="#3672ae"/>
<rect x="397.90" y="133.80" width="4.93" height="3.40" fill="#cbe0ed"/>
<rect x="402.83" y="133.80" width="4.93" height="3.40" fill="#d8e7f0"/>
<rect x="407.76" y="133.80" width="4.93" height="3.40" fill="#cbe0ed"/>
<rect x="412.69" y="133.80" width="4.93" height="3.40" fill="#5f9eca"/>
<rect x="417.63" y="133.80" width="4.93" height="3.40" fill="#72abd1"/>
<rect x="422.56" y="133.80" width="4.93" height="3.40" fill="#5f9eca"/>
<rect x="427.49" y="133.80" width="4.93" height="3.40" fill="#5090c2"/>
<rect x="432.43" y="133.80" width="4.93" height="3.40" fill="#5f9eca"/>
<rect x="437.36" y="133.80" width="4.93" height="3.40" fill="#4381b8"/>
<rect x="338.70" y="137.20" width="4.93" height="3.40" fill="#b5d3e6"/>
<rect x="343.63" y="137.20" width="4.93" height="3.40" fill="#5090c2"/>
<rect x="348.57" y="137.20" width="4.93" height="3.40" fill="#89b9d8"/>
<rect x="353.50" y="137.20" width="4.93" height="3.40" fill="#5f9eca"/>
<rect x="358.43" y="137.20" width="4.93" height="3.40" fill="#89b9d8"/>
<rect x="363.37" y="137.20" width="4.93" height="3.40" fill="#5090c2"/>
<rect x="368.30" y="137.20" width="4.93" height="3.40" fill="#5f9eca"/>
<rect x="373.23" y="137.20" width="4.93" height="3.40" fill="#9fc6df"/>
<rect x="378.16" y="137.20" width="4.93" height="3.40" fill="#9fc6df"/>
<rect x="383.10" y="137.20" width="4.93" height="3.40" fill="#4381b8"/>
<rect x="388.03" y="137.20" width="4.93" height="3.40" fill="#4381b8"/>
<rect x="392.96" y="137.20" width="4.93" height="3.40" fill="#3672ae"/>
<rect x="397.90" y="137.20" width="4.93" height="3.40" fill="#d8e7f0"/>
<rect x="402.83" y="137.20" width="4.93" height="3.40" fill="#cbe0ed"/>
<rect x="407.76" y="137.20" width="4.93" height="3.40" fill="#b5d3e6"/>
<rect x="412.69" y="137.20" width="4.93" height="3.40" fill="#5090c2"/>
<rect x="417.63" y="137.20" width="4.93" height="3.40" fill="#5f9eca"/>
<rect x="422.56" y="137.20" width="4.93" height="3.40" fill="#5f9eca"/>
<rect x="427.49" y="137.20" width="4.93" height="3.40" fill="#5f9eca"/>
<rect x="432.43" y="137.20" width="4.93" height="3.40" fill="#5090c2"/>
<rect x="437.36" y="137.20" width="4.93" height="3.40" fill="#4381b8"/>
<rect x="338.70" y="140.60" width="4.93" height="3.40" fill="#f8ebe6"/>
<rect x="343.63" y="140.60" width="4.93" height="3.40" fill="#f6f6f6"/>
<rect x="348.57" y="140.60" width="4.93" height="3.40" fill="#f8c3b0"/>
<rect x="353.50" y="140.60" width="4.93" height="3.40" fill="#f6f1f0"/>
<rect x="358.43" y="140.60" width="4.93" height="3.40" fill="#ef8f71"/>
<rect x="363.37" y="140.60" width="4.93" height="3.40" fill="#f2a086"/>
<rect x="368.30" y="140.60" width="4.93" height="3.40" fill="#f8c3b0"/>
<rect x="373.23" y="140.60" width="4.93" height="3.40" fill="#e57961"/>
<rect x="378.16" y="140.60" width="4.93" height="3.40" fill="#e57961"/>
<rect x="383.10" y="140.60" width="4.93" height="3.40" fill="#f6f6f6"/>
<rect x="388.03" y="140.60" width="4.93" height="3.40" fill="#f6f6f6"/>
<rect x="392.96" y="140.60" width="4.93" height="3.40" fill="#3672ae"/>
<rect x="397.90" y="140.60" width="4.93" height="3.40" fill="#f9e5dd"/>
<rect x="402.83" y="140.60" width="4.93" height="3.40" fill="#f8ebe6"/>
<rect x="407.76" y="140.60" width="4.93" height="3.40" fill="#f6f1f0"/>
<rect x="412.69" y="140.60" width="4.93" height="3.40" fill="#cbe0ed"/>
<rect x="417.63" y="140.60" width="4.93" height="3.40" fill="#d8e7f0"/>
<rect x="422.56" y="140.60" width="4.93" height="3.40" fill="#89b9d8"/>
<rect x="427.49" y="140.60" width="4.93" height="3.40" fill="#89b9d8"/>
<rect x="432.43" y="140.60" width="4.93" height="3.40" fill="#b5d3e6"/>
<rect x="437.36" y="140.60" width="4.93" height="3.40" fill="#4381b8"/>
<rect x="338.70" y="144.00" width="4.93" height="3.40" fill="#f6f1f0"/>
<rect x="343.63" y="144.00" width="4.93" height="3.40" fill="#f6f6f6"/>
<rect x="348.57" y="144.00" width="4.93" height="3.40" fill="#f5b29b"/>
<rect x="353.50" y="144.00" width="4.93" height="3.40" fill="#f8ebe6"/>
<rect x="358.43" y="144.00" width="4.93" height="3.40" fill="#e57961"/>
<rect x="363.37" y="144.00" width="4.93" height="3.40" fill="#ef8f71"/>
<rect x="368.30" y="144.00" width="4.93" height="3.40" fill="#f5b29b"/>
<rect x="373.23" y="144.00" width="4.93" height="3.40" fill="#d86152"/>
<rect x="378.16" y="144.00" width="4.93" height="3.40" fill="#d86152"/>
<rect x="383.10" y="144.00" width="4.93" height="3.40" fill="#f6f6f6"/>
<rect x="388.03" y="144.00" width="4.93" height="3.40" fill="#f0f3f5"/>
<rect x="392.96" y="144.00" width="4.93" height="3.40" fill="#3672ae"/>
<rect x="397.90" y="144.00" width="4.93" height="3.40" fill="#fadfd4"/>
<rect x="402.83" y="144.00" width="4.93" height="3.40" fill="#f9e5dd"/>
<rect x="407.76" y="144.00" width="4.93" height="3.40" fill="#f6f6f6"/>
<rect x="412.69" y="144.00" width="4.93" height="3.40" fill="#b5d3e6"/>
<rect x="417.63" y="144.00" width="4.93" height="3.40" fill="#cbe0ed"/>
<rect x="422.56" y="144.00" width="4.93" height="3.40" fill="#89b9d8"/>
<rect x="427.49" y="144.00" width="4.93" height="3.40" fill="#72abd1"/>
<rect x="432.43" y="144.00" width="4.93" height="3.40" fill="#b5d3e6"/>
<rect x="437.36" y="144.00" width="4.93" height="3.40" fill="#4381b8"/>
<rect x="338.70" y="147.40" width="4.93" height="3.40" fill="#f6f1f0"/>
<rect x="343.63" y="147.40" width="4.93" height="3.40" fill="#f6f6f6"/>
<rect x="348.57" y="147.40" width="4.93" height="3.40" fill="#f8c3b0"/>
<rect x="353.50" y="147.40" width="4.93" height="3.40" fill="#f6f1f0"/>
<rect x="358.43" y="147.40" width="4.93" height="3.40" fill="#ef8f71"/>
<rect x="363.37" y="147.40" width="4.93" height="3.40" fill="#f2a086"/>
<rect x="368.30" y="147.40" width="4.93" height="3.40" fill="#f8c3b0"/>
<rect x="373.23" y="147.40" width="4.93" height="3.40" fill="#b12530"/>
<rect x="378.16" y="147.40" width="4.93" height="3.40" fill="#bc3237"/>
<rect x="383.10" y="147.40" width="4.93" height="3.40" fill="#f0f3f5"/>
<rect x="388.03" y="147.40" width="4.93" height="3.40" fill="#e8eff4"/>
<rect x="392.96" y="147.40" width="4.93" height="3.40" fill="#3672ae"/>
<rect x="397.90" y="147.40" width="4.93" height="3.40" fill="#fadfd4"/>
<rect x="402.83" y="147.40" width="4.93" height="3.40" fill="#f9e5dd"/>
<rect x="407.76" y="147.40" width="4.93" height="3.40" fill="#f6f6f6"/>
<rect x="412.69" y="147.40" width="4.93" height="3.40" fill="#cbe0ed"/>
<rect x="417.63" y="147.40" width="4.93" height="3.40" fill="#d8e7f0"/>
<rect x="422.56" y="147.40" width="4.93" height="3.40" fill="#72abd1"/>
<rect x="427.49" y="147.40" width="4.93" height="3.40" fill="#89b9d8"/>
<rect x="432.43" y="147.40" width="4.93" height="3.40" fill="#9fc6df"/>
<rect x="437.36" y="147.40" width="4.93" height="3.40" fill="#4381b8"/>
<rect x="338.70" y="150.80" width="4.93" height="3.40" fill="#f6f6f6"/>
<rect x="343.63" y="150.80" width="4.93" height="3.40" fill="#5f9eca"/>
<rect x="348.57" y="150.80" width="4.93" height="3.40" fill="#f6f6f6"/>
<rect x="353.50" y="150.80" width="4.93" height="3.40" fill="#b5d3e6"/>
<rect x="358.43" y="150.80" width="4.93" height="3.40" fill="#f0f3f5"/>
<rect x="363.37" y="150.80" width="4.93" height="3.40" fill="#5f9eca"/>
<rect x="368.30" y="150.80" width="4.93" height="3.40" fill="#d8e7f0"/>
<rect x="373.23" y="150.80" width="4.93" height="3.40" fill="#f6f1f0"/>
<rect x="378.16" y="150.80" width="4.93" height="3.40" fill="#f8ebe6"/>
<rect x="383.10" y="150.80" width="4.93" height="3.40" fill="#5090c2"/>
<rect x="388.03" y="150.80" width="4.93" height="3.40" fill="#5090c2"/>
<rect x="392.96" y="150.80" width="4.93" height="3.40" fill="#3672ae"/>
<rect x="397.90" y="150.80" width="4.93" height="3.40" fill="#fad5c6"/>
<rect x="402.83" y="150.80" width="4.93" height="3.40" fill="#f8ebe6"/>
<rect x="407.76" y="150.80" width="4.93" height="3.40" fill="#f6f6f6"/>
<rect x="412.69" y="150.80" width="4.93" height="3.40" fill="#89b9d8"/>
<rect x="417.63" y="150.80" width="4.93" height="3.40" fill="#b5d3e6"/>
<rect x="422.56" y="150.80" width="4.93" height="3.40" fill="#5f9eca"/>
<rect x="427.49" y="150.80" width="4.93" height="3.40" fill="#5f9eca"/>
<rect x="432.43" y="150.80" width="4.93" height="3.40" fill="#89b9d8"/>
<rect x="437.36" y="150.80" width="4.93" height="3.40" fill="#4381b8"/>
<rect x="338.70" y="154.20" width="4.93" height="3.40" fill="#f0f3f5"/>
<rect x="343.63" y="154.20" width="4.93" height="3.40" fill="#66a3cd"/>
<rect x="348.57" y="154.20" width="4.93" height="3.40" fill="#f0f3f5"/>
<rect x="353.50" y="154.20" width="4.93" height="3.40" fill="#cbe0ed"/>
<rect x="358.43" y="154.20" width="4.93" height="3.40" fill="#f6f6f6"/>
<rect x="363.37" y="154.20" width="4.93" height="3.40" fill="#66a3cd"/>
<rect x="368.30" y="154.20" width="4.93" height="3.40" fill="#cbe0ed"/>
<rect x="373.23" y="154.20" width="4.93" height="3.40" fill="#f8ebe6"/>
<rect x="378.16" y="154.20" width="4.93" height="3.40" fill="#f9e5dd"/>
<rect x="383.10" y="154.20" width="4.93" height="3.40" fill="#5f9eca"/>
<rect x="388.03" y="154.20" width="4.93" height="3.40" fill="#5f9eca"/>
<rect x="392.96" y="154.20" width="4.93" height="3.40" fill="#3672ae"/>
<rect x="397.90" y="154.20" width="4.93" height="3.40" fill="#fad5c6"/>
<rect x="402.83" y="154.20" width="4.93" height="3.40" fill="#f8ebe6"/>
<rect x="407.76" y="154.20" width="4.93" height="3.40" fill="#f6f6f6"/>
<rect x="412.69" y="154.20" width="4.93" height="3.40" fill="#72abd1"/>
<rect x="417.63" y="154.20" width="4.93" height="3.40" fill="#9fc6df"/>
<rect x="422.56" y="154.20" width="4.93" height="3.40" fill="#5f9eca"/>
<rect x="427.49" y="154.20" width="4.93" height="3.40" fill="#5090c2"/>
<rect x="432.43" y="154.20" width="4.93" height="3.40" fill="#9fc6df"/>
<rect x="437.36" y="154.20" width="4.93" height="3.40" fill="#4381b8"/>
<rect x="338.70" y="157.60" width="4.93" height="3.40" fill="#f6f6f6"/>
<rect x="343.63" y="157.60" width="4.93" height="3.40" fill="#9fc6df"/>
<rect x="348.57" y="157.60" width="4.93" height="3.40" fill="#f6f6f6"/>
<rect x="353.50" y="157.60" width="4.93" height="3.40" fill="#b5d3e6"/>
<rect x="358.43" y="157.60" width="4.93" height="3.40" fill="#f6f1f0"/>
<rect x="363.37" y="157.60" width="4.93" height="3.40" fill="#b5d3e6"/>
<rect x="368.30" y="157.60" width="4.93" height="3.40" fill="#d8e7f0"/>
<rect x="373.23" y="157.60" width="4.93" height="3.40" fill="#f6f1f0"/>
<rect x="378.16" y="157.60" width="4.93" height="3.40" fill="#f9e5dd"/>
<rect x="383.10" y="157.60" width="4.93" height="3.40" fill="#5090c2"/>
<rect x="388.03" y="157.60" width="4.93" height="3.40" fill="#89b9d8"/>
<rect x="392.96" y="157.60" width="4.93" height="3.40" fill="#3672ae"/>
<rect x="397.90" y="157.60" width="4.93" height="3.40" fill="#fad5c6"/>
<rect x="402.83" y="157.60" width="4.93" height="3.40" fill="#f9e5dd"/>
<rect x="407.76" y="157.60" width="4.93" height="3.40" fill="#f0f3f5"/>
<rect x="412.69" y="157.60" width="4.93" height="3.40" fill="#89b9d8"/>
<rect x="417.63" y="157.60" width="4.93" height="3.40" fill="#89b9d8"/>
<rect x="422.56" y="157.60" width="4.93" height="3.40" fill="#72abd1"/>
<rect x="427.49" y="157.60" width="4.93" height="3.40" fill="#5f9eca"/>
<rect x="432.43" y="157.60" width="4.93" height="3.40" fill="#89b9d8"/>
<rect x="437.36" y="157.60" width="4.93" height="3.40" fill="#4381b8"/>
<rect x="338.70" y="161.00" width="4.93" height="3.40" fill="#f0f3f5"/>
<rect x="343.63" y="161.00" width="4.93" height="3.40" fill="#9fc6df"/>
<rect x="348.57" y="161.00" width="4.93" height="3.40" fill="#f6f1f0"/>
<rect x="353.50" y="161.00" width="4.93" height="3.40" fill="#b5d3e6"/>
<rect x="358.43" y="161.00" width="4.93" height="3.40" fill="#f6f6f6"/>
<rect x="363.37" y="161.00" width="4.93" height="3.40" fill="#cbe0ed"/>
<rect x="368.30" y="161.00" width="4.93" height="3.40" fill="#e0ebf2"/>
<rect x="373.23" y="161.00" width="4.93" height="3.40" fill="#f8ebe6"/>
<rect x="378.16" y="161.00" width="4.93" height="3.40" fill="#fadfd4"/>
<rect x="383.10" y="161.00" width="4.93" height="3.40" fill="#5f9eca"/>
<rect x="388.03" y="161.00" width="4.93" height="3.40" fill="#5090c2"/>
<rect x="392.96" y="161.00" width="4.93" height="3.40" fill="#3672ae"/>
<rect x="397.90" y="161.00" width="4.93" height="3.40" fill="#fad5c6"/>
<rect x="402.83" y="161.00" width="4.93" height="3.40" fill="#f8ebe6"/>
<rect x="407.76" y="161.00" width="4.93" height="3.40" fill="#f6f6f6"/>
<rect x="412.69" y="161.00" width="4.93" height="3.40" fill="#72abd1"/>
<rect x="417.63" y="161.00" width="4.93" height="3.40" fill="#b5d3e6"/>
<rect x="422.56" y="161.00" width="4.93" height="3.40" fill="#5f9eca"/>
<rect x="427.49" y="161.00" width="4.93" height="3.40" fill="#5090c2"/>
<rect x="432.43" y="161.00" width="4.93" height="3.40" fill="#72abd1"/>
<rect x="437.36" y="161.00" width="4.93" height="3.40" fill="#4381b8"/>
<rect x="338.70" y="164.40" width="4.93" height="3.40" fill="#f6f6f6"/>
<rect x="343.63" y="164.40" width="4.93" height="3.40" fill="#b5d3e6"/>
<rect x="348.57" y="164.40" width="4.93" height="3.40" fill="#f6f6f6"/>
<rect x="353.50" y="164.40" width="4.93" height="3.40" fill="#cbe0ed"/>
<rect x="358.43" y="164.40" width="4.93" height="3.40" fill="#f6f6f6"/>
<rect x="363.37" y="164.40" width="4.93" height="3.40" fill="#cbe0ed"/>
<rect x="368.30" y="164.40" width="4.93" height="3.40" fill="#d8e7f0"/>
<rect x="373.23" y="164.40" width="4.93" height="3.40" fill="#f9e5dd"/>
<rect x="378.16" y="164.40" width="4.93" height="3.40" fill="#fad5c6"/>
<rect x="383.10" y="164.40" width="4.93" height="3.40" fill="#5090c2"/>
<rect x="388.03" y="164.40" width="4.93" height="3.40" fill="#5f9eca"/>
<rect x="392.96" y="164.40" width="4.93" height="3.40" fill="#3672ae"/>
<rect x="397.90" y="164.40" width="4.93" height="3.40" fill="#fadfd4"/>
<rect x="402.83" y="164.40" width="4.93" height="3.40" fill="#f8ebe6"/>
<rect x="407.76" y="164.40" width="4.93" height="3.40" fill="#f6f6f6"/>
<rect x="412.69" y="164.40" width="4.93" height="3.40" fill="#5f9eca"/>
<rect x="417.63" y="164.40" width="4.93" height="3.40" fill="#9fc6df"/>
<rect x="422.56" y="164.40" width="4.93" height="3.40" fill="#5090c2"/>
<rect x="427.49" y="164.40" width="4.93" height="3.40" fill="#5f9eca"/>
<rect x="432.43" y="164.40" width="4.93" height="3.40" fill="#89b9d8"/>
<rect x="437.36" y="164.40" width="4.93" height="3.40" fill="#4381b8"/>
<rect x="338.70" y="167.80" width="4.93" height="3.40" fill="#f6f6f6"/>
<rect x="343.63" y="167.80" width="4.93" height="3.40" fill="#9fc6df"/>
<rect x="348.57" y="167.80" width="4.93" height="3.40" fill="#f6f6f6"/>
<rect x="353.50" y="167.80" width="4.93" height="3.40" fill="#d8e7f0"/>
<rect x="358.43" y="167.80" width="4.93" height="3.40" fill="#f6f1f0"/>
<rect x="363.37" y="167.80" width="4.93" height="3.40" fill="#cbe0ed"/>
<rect x="368.30" y="167.80" width="4.93" height="3.40" fill="#e0ebf2"/>
<rect x="373.23" y="167.80" width="4.93" height="3.40" fill="#f8ebe6"/>
<rect x="378.16" y="167.80" width="4.93" height="3.40" fill="#fad5c6"/>
<rect x="383.10" y="167.80" width="4.93" height="3.40" fill="#5f9eca"/>
<rect x="388.03" y="167.80" width="4.93" height="3.40" fill="#89b9d8"/>
<rect x="392.96" y="167.80" width="4.93" height="3.40" fill="#3672ae"/>
<rect x="397.90" y="167.80" width="4.93" height="3.40" fill="#fad5c6"/>
<rect x="402.83" y="167.80" width="4.93" height="3.40" fill="#f9e5dd"/>
<rect x="407.76" y="167.80" width="4.93" height="3.40" fill="#f0f3f5"/>
<rect x="412.69" y="167.80" width="4.93" height="3.40" fill="#72abd1"/>
<rect x="417.63" y="167.80" width="4.93" height="3.40" fill="#89b9d8"/>
<rect x="422.56" y="167.80" width="4.93" height="3.40" fill="#5f9eca"/>
<rect x="427.49" y="167.80" width="4.93" height="3.40" fill="#5090c2"/>
<rect x="432.43" y="167.80" width="4.93" height="3.40" fill="#9fc6df"/>
<rect x="437.36" y="167.80" width="4.93" height="3.40" fill="#4381b8"/>
<rect x="338.70" y="171.20" width="4.93" height="3.40" fill="#f0f3f5"/>
<rect x="343.63" y="171.20" width="4.93" height="3.40" fill="#b5d3e6"/>
<rect x="348.57" y="171.20" width="4.93" height="3.40" fill="#f6f1f0"/>
<rect x="353.50" y="171.20" width="4.93" height="3.40" fill="#cbe0ed"/>
<rect x="358.43" y="171.20" width="4.93" height="3.40" fill="#f6f6f6"/>
<rect x="363.37" y="171.20" width="4.93" height="3.40" fill="#cbe0ed"/>
<rect x="368.30" y="171.20" width="4.93" height="3.40" fill="#e8eff4"/>
<rect x="373.23" y="171.20" width="4.93" height="3.40" fill="#f9e5dd"/>
<rect x="378.16" y="171.20" width="4.93" height="3.40" fill="#fad5c6"/>
<rect x="383.10" y="171.20" width="4.93" height="3.40" fill="#5090c2"/>
<rect x="388.03" y="171.20" width="4.93" height="3.40" fill="#5090c2"/>
<rect x="392.96" y="171.20" width="4.93" height="3.40" fill="#3672ae"/>
<rect x="397.90" y="171.20" width="4.93" height="3.40" fill="#fadfd4"/>
<rect x="402.83" y="171.20" width="4.93" height="3.40" fill="#f8ebe6"/>
<rect x="407.76" y="171.20" width="4.93" height="3.40" fill="#f6f6f6"/>
<rect x="412.69" y="171.20" width="4.93" height="3.40" fill="#72abd1"/>
<rect x="417.63" y="171.20" width="4.93" height="3.40" fill="#9fc6df"/>
<rect x="422.56" y="171.20" width="4.93" height="3.40" fill="#5f9eca"/>
<rect x="427.49" y="171.20" width="4.93" height="3.40" fill="#4381b8"/>
<rect x="432.43" y="171.20" width="4.93" height="3.40" fill="#89b9d8"/>
<rect x="437.36" y="171.20" width="4.93" height="3.40" fill="#4381b8"/>
<rect x="338.70" y="174.60" width="4.93" height="3.40" fill="#f6f6f6"/>
<rect x="343.63" y="174.60" width="4.93" height="3.40" fill="#b5d3e6"/>
<rect x="348.57" y="174.60" width="4.93" height="3.40" fill="#f6f6f6"/>
<rect x="353.50" y="174.60" width="4.93" height="3.40" fill="#d8e7f0"/>
<rect x="358.43" y="174.60" width="4.93" height="3.40" fill="#f6f1f0"/>
<rect x="363.37" y="174.60" width="4.93" height="3.40" fill="#d8e7f0"/>
<rect x="368.30" y="174.60" width="4.93" height="3.40" fill="#e0ebf2"/>
<rect x="373.23" y="174.60" width="4.93" height="3.40" fill="#f8ebe6"/>
<rect x="378.16" y="174.60" width="4.93" height="3.40" fill="#fadfd4"/>
<rect x="383.10" y="174.60" width="4.93" height="3.40" fill="#5090c2"/>
<rect x="388.03" y="174.60" width="4.93" height="3.40" fill="#5f9eca"/>
<rect x="392.96" y="174.60" width="4.93" height="3.40" fill="#3672ae"/>
<rect x="397.90" y="174.60" width="4.93" height="3.40" fill="#fad5c6"/>
<rect x="402.83" y="174.60" width="4.93" height="3.40" fill="#f8ebe6"/>
<rect x="407.76" y="174.60" width="4.93" height="3.40" fill="#f0f3f5"/>
<rect x="412.69" y="174.60" width="4.93" height="3.40" fill="#5f9eca"/>
<rect x="417.63" y="174.60" width="4.93" height="3.40" fill="#b5d3e6"/>
<rect x="422.56" y="174.60" width="4.93" height="3.40" fill="#5090c2"/>
<rect x="427.49" y="174.60" width="4.93" height="3.40" fill="#5090c2"/>
<rect x="432.43" y="174.60" width="4.93" height="3.40" fill="#72abd1"/>
<rect x="437.36" y="174.60" width="4.93" height="3.40" fill="#4381b8"/>
<rect x="338.70" y="178.00" width="4.93" height="3.40" fill="#f6f6f6"/>
<rect x="343.63" y="178.00" width="4.93" height="3.40" fill="#cbe0ed"/>
<rect x="348.57" y="178.00" width="4.93" height="3.40" fill="#f6f6f6"/>
<rect x="353.50" y="178.00" width="4.93" height="3.40" fill="#d8e7f0"/>
<rect x="358.43" y="178.00" width="4.93" height="3.40" fill="#f6f6f6"/>
<rect x="363.37" y="178.00" width="4.93" height="3.40" fill="#d8e7f0"/>
<rect x="368.30" y="178.00" width="4.93" height="3.40" fill="#e8eff4"/>
<rect x="373.23" y="178.00" width="4.93" height="3.40" fill="#f8ebe6"/>
<rect x="378.16" y="178.00" width="4.93" height="3.40" fill="#f9e5dd"/>
<rect x="383.10" y="178.00" width="4.93" height="3.40" fill="#5f9eca"/>
<rect x="388.03" y="178.00" width="4.93" height="3.40" fill="#5090c2"/>
<rect x="392.96" y="178.00" width="4.93" height="3.40" fill="#3672ae"/>
<rect x="397.90" y="178.00" width="4.93" height="3.40" fill="#fadfd4"/>
<rect x="402.83" y="178.00" width="4.93" height="3.40" fill="#f8ebe6"/>
<rect x="407.76" y="178.00" width="4.93" height="3.40" fill="#f6f6f6"/>
<rect x="412.69" y="178.00" width="4.93" height="3.40" fill="#72abd1"/>
<rect x="417.63" y="178.00" width="4.93" height="3.40" fill="#9fc6df"/>
<rect x="422.56" y="178.00" width="4.93" height="3.40" fill="#5f9eca"/>
<rect x="427.49" y="178.00" width="4.93" height="3.40" fill="#5f9eca"/>
<rect x="432.43" y="178.00" width="4.93" height="3.40" fill="#9fc6df"/>
<rect x="437.36" y="178.00" width="4.93" height="3.40" fill="#4381b8"/>
</g>
<text x="443.4" y="96.7" font-size="4.25" font-weight="normal" font-style="normal" fill="#333" text-anchor="start" stroke="#333" stroke-width="0.05" >UBTF</text>
<text x="443.4" y="100.10000000000001" font-size="4.25" font-weight="normal" font-style="normal" fill="#333" text-anchor="start" stroke="#333" stroke-width="0.05" >UBTF_exon9</text>
<text x="443.4" y="103.5" font-size="4.25" font-weight="normal" font-style="normal" fill="#333" text-anchor="start" stroke="#333" stroke-width="0.05" >KMT2A-PTD</text>
<text x="443.4" y="106.9" font-size="4.25" font-weight="normal" font-style="normal" fill="#333" text-anchor="start" stroke="#333" stroke-width="0.05" >NPM1</text>
<text x="443.4" y="110.3" font-size="4.25" font-weight="normal" font-style="normal" fill="#333" text-anchor="start" stroke="#333" stroke-width="0.05" >DEK::NUP214</text>
<text x="443.4" y="113.7" font-size="4.25" font-weight="normal" font-style="normal" fill="#333" text-anchor="start" stroke="#333" stroke-width="0.05" >CD34</text>
<text x="443.4" y="117.10000000000001" font-size="4.25" font-weight="normal" font-style="normal" fill="#333" text-anchor="start" stroke="#333" stroke-width="0.05" >CEBPA</text>
<text x="443.4" y="120.5" font-size="4.25" font-weight="normal" font-style="normal" fill="#333" text-anchor="start" stroke="#333" stroke-width="0.05" >BCR::ABL1</text>
<text x="443.4" y="123.9" font-size="4.25" font-weight="normal" font-style="normal" fill="#333" text-anchor="start" stroke="#333" stroke-width="0.05" >BCL11B</text>
<text x="443.4" y="127.3" font-size="4.25" font-weight="normal" font-style="normal" fill="#333" text-anchor="start" stroke="#333" stroke-width="0.05" >GLISr</text>
<text x="443.4" y="130.7" font-size="4.25" font-weight="normal" font-style="normal" fill="#333" text-anchor="start" stroke="#333" stroke-width="0.05" >RUNX1::RUNX1T1-like</text>
<text x="443.4" y="134.1" font-size="4.25" font-weight="normal" font-style="normal" fill="#333" text-anchor="start" stroke="#333" stroke-width="0.05" >APL</text>
<text x="443.4" y="137.5" font-size="4.25" font-weight="normal" font-style="normal" fill="#333" text-anchor="start" stroke="#333" stroke-width="0.05" >RUNX1::RUNX1T1</text>
<text x="443.4" y="140.89999999999998" font-size="4.25" font-weight="normal" font-style="normal" fill="#333" text-anchor="start" stroke="#333" stroke-width="0.05" >NUP98r</text>
<text x="443.4" y="144.29999999999998" font-size="4.25" font-weight="normal" font-style="normal" fill="#333" text-anchor="start" stroke="#333" stroke-width="0.05" >PICALM::MLLT10</text>
<text x="443.4" y="147.7" font-size="4.25" font-weight="normal" font-style="normal" fill="#333" text-anchor="start" stroke="#333" stroke-width="0.05" >KAT6Ar</text>
<text x="443.4" y="151.1" font-size="4.25" font-weight="normal" font-style="normal" fill="#333" text-anchor="start" stroke="#333" stroke-width="0.05" >KMT2Ar</text>
<text x="443.4" y="154.5" font-size="4.25" font-weight="normal" font-style="normal" fill="#333" text-anchor="start" stroke="#333" stroke-width="0.05" >GATA1</text>
<text x="443.4" y="157.89999999999998" font-size="4.25" font-weight="normal" font-style="normal" fill="#333" text-anchor="start" stroke="#333" stroke-width="0.05" >CBFB::MYH11</text>
<text x="443.4" y="161.29999999999998" font-size="4.25" font-weight="normal" font-style="normal" fill="#333" text-anchor="start" stroke="#333" stroke-width="0.05" >ETS family</text>
<text x="443.4" y="164.7" font-size="4.25" font-weight="normal" font-style="normal" fill="#333" text-anchor="start" stroke="#333" stroke-width="0.05" >HOXr</text>
<text x="443.4" y="168.09999999999997" font-size="4.25" font-weight="normal" font-style="normal" fill="#333" text-anchor="start" stroke="#333" stroke-width="0.05" >Unclassified</text>
<text x="443.4" y="171.5" font-size="4.25" font-weight="normal" font-style="normal" fill="#333" text-anchor="start" stroke="#333" stroke-width="0.05" >MECOM</text>
<text x="443.4" y="174.89999999999998" font-size="4.25" font-weight="normal" font-style="normal" fill="#333" text-anchor="start" stroke="#333" stroke-width="0.05" >CBFB-GDXY</text>
<text x="443.4" y="178.29999999999998" font-size="4.25" font-weight="normal" font-style="normal" fill="#333" text-anchor="start" stroke="#333" stroke-width="0.05" >RBM15::MRTFA</text>
<text x="443.4" y="181.7" font-size="4.25" font-weight="normal" font-style="normal" fill="#333" text-anchor="start" stroke="#333" stroke-width="0.05" >MNX1</text>
<text transform="translate(339.82 183.4) rotate(90)" font-size="4.05" fill="#222" stroke="#222" stroke-width="0.12">HOXA1</text>
<text transform="translate(344.75 183.4) rotate(90)" font-size="4.05" fill="#222" stroke="#222" stroke-width="0.12">HOXA2</text>
<text transform="translate(349.68 183.4) rotate(90)" font-size="4.05" fill="#222" stroke="#222" stroke-width="0.12">HOXA3</text>
<text transform="translate(354.62 183.4) rotate(90)" font-size="4.05" fill="#222" stroke="#222" stroke-width="0.12">HOXA4</text>
<text transform="translate(359.55 183.4) rotate(90)" font-size="4.05" fill="#222" stroke="#222" stroke-width="0.12">HOXA5</text>
<text transform="translate(364.48 183.4) rotate(90)" font-size="4.05" fill="#222" stroke="#222" stroke-width="0.12">HOXA6</text>
<text transform="translate(369.41 183.4) rotate(90)" font-size="4.05" fill="#222" stroke="#222" stroke-width="0.12">HOXA7</text>
<text transform="translate(374.35 183.4) rotate(90)" font-size="4.05" fill="#222" stroke="#222" stroke-width="0.12">HOXA9</text>
<text transform="translate(379.28 183.4) rotate(90)" font-size="4.05" fill="#222" stroke="#222" stroke-width="0.12">HOXA10</text>
<text transform="translate(384.21 183.4) rotate(90)" font-size="4.05" fill="#222" stroke="#222" stroke-width="0.12">HOXA11</text>
<text transform="translate(389.15 183.4) rotate(90)" font-size="4.05" fill="#222" stroke="#222" stroke-width="0.12">HOXA13</text>
<text transform="translate(394.08 183.4) rotate(90)" font-size="4.05" fill="#222" stroke="#222" stroke-width="0.12">HOXB1</text>
<text transform="translate(399.01 183.4) rotate(90)" font-size="4.05" fill="#222" stroke="#222" stroke-width="0.12">HOXB2</text>
<text transform="translate(403.95 183.4) rotate(90)" font-size="4.05" fill="#222" stroke="#222" stroke-width="0.12">HOXB3</text>
<text transform="translate(408.88 183.4) rotate(90)" font-size="4.05" fill="#222" stroke="#222" stroke-width="0.12">HOXB4</text>
<text transform="translate(413.81 183.4) rotate(90)" font-size="4.05" fill="#222" stroke="#222" stroke-width="0.12">HOXB5</text>
<text transform="translate(418.74 183.4) rotate(90)" font-size="4.05" fill="#222" stroke="#222" stroke-width="0.12">HOXB6</text>
<text transform="translate(423.68 183.4) rotate(90)" font-size="4.05" fill="#222" stroke="#222" stroke-width="0.12">HOXB7</text>
<text transform="translate(428.61 183.4) rotate(90)" font-size="4.05" fill="#222" stroke="#222" stroke-width="0.12">HOXB8</text>
<text transform="translate(433.54 183.4) rotate(90)" font-size="4.05" fill="#222" stroke="#222" stroke-width="0.12">HOXB9</text>
<text transform="translate(438.48 183.4) rotate(90)" font-size="4.05" fill="#222" stroke="#222" stroke-width="0.12">HOXB13</text>
<line x1="316.4" y1="107.3" x2="316.4" y2="139.6" stroke="#3a3a3a" stroke-width="0.6"/>
<line x1="316.4" y1="107.3" x2="336.3" y2="107.3" stroke="#3a3a3a" stroke-width="0.6"/>
<line x1="316.4" y1="139.6" x2="327.5" y2="139.6" stroke="#3a3a3a" stroke-width="0.6"/>
<line x1="327.5" y1="126.4" x2="327.5" y2="151.9" stroke="#3a3a3a" stroke-width="0.6"/>
<line x1="327.5" y1="126.4" x2="337" y2="126.4" stroke="#3a3a3a" stroke-width="0.6"/>
<line x1="327.5" y1="151.9" x2="331.6" y2="151.9" stroke="#3a3a3a" stroke-width="0.6"/>
<line x1="331.6" y1="145.7" x2="331.6" y2="159.4" stroke="#3a3a3a" stroke-width="0.6"/>
<line x1="331.6" y1="145.7" x2="337.5" y2="145.7" stroke="#3a3a3a" stroke-width="0.6"/>
<line x1="331.6" y1="159.4" x2="335.8" y2="159.4" stroke="#3a3a3a" stroke-width="0.6"/>
<line x1="336.3" y1="97" x2="336.3" y2="117" stroke="#333" stroke-width="0.55"/>
<line x1="336.3" y1="97" x2="338.7" y2="97" stroke="#333" stroke-width="0.55"/>
<line x1="336.3" y1="117" x2="338.7" y2="117" stroke="#333" stroke-width="0.55"/>
<line x1="337.4" y1="94.7" x2="337.4" y2="99.5" stroke="#333" stroke-width="0.55"/>
<line x1="337.4" y1="94.7" x2="338.7" y2="94.7" stroke="#333" stroke-width="0.55"/>
<line x1="337.4" y1="99.5" x2="338.7" y2="99.5" stroke="#333" stroke-width="0.55"/>
<line x1="337.0" y1="102" x2="337.0" y2="112" stroke="#333" stroke-width="0.55"/>
<line x1="337.0" y1="102" x2="338.7" y2="102" stroke="#333" stroke-width="0.55"/>
<line x1="337.0" y1="112" x2="338.7" y2="112" stroke="#333" stroke-width="0.55"/>
<line x1="337.8" y1="105" x2="337.8" y2="109" stroke="#333" stroke-width="0.55"/>
<line x1="337.6" y1="114" x2="337.6" y2="120" stroke="#333" stroke-width="0.55"/>
<line x1="337.6" y1="120" x2="338.7" y2="120" stroke="#333" stroke-width="0.55"/>
<line x1="337.0" y1="122.5" x2="337.0" y2="131" stroke="#333" stroke-width="0.55"/>
<line x1="337.0" y1="122.5" x2="338.7" y2="122.5" stroke="#333" stroke-width="0.55"/>
<line x1="337.0" y1="131" x2="338.7" y2="131" stroke="#333" stroke-width="0.55"/>
<line x1="337.8" y1="125" x2="337.8" y2="129" stroke="#333" stroke-width="0.55"/>
<line x1="337.7" y1="133" x2="337.7" y2="137.5" stroke="#333" stroke-width="0.55"/>
<line x1="337.5" y1="141.5" x2="337.5" y2="150" stroke="#333" stroke-width="0.55"/>
<line x1="337.5" y1="141.5" x2="338.7" y2="141.5" stroke="#333" stroke-width="0.55"/>
<line x1="337.5" y1="150" x2="338.7" y2="150" stroke="#333" stroke-width="0.55"/>
<line x1="335.4" y1="153" x2="335.4" y2="168" stroke="#333" stroke-width="0.55"/>
<line x1="335.4" y1="153" x2="338.7" y2="153" stroke="#333" stroke-width="0.55"/>
<line x1="335.4" y1="168" x2="336.6" y2="168" stroke="#333" stroke-width="0.55"/>
<line x1="336.6" y1="163" x2="336.6" y2="178" stroke="#333" stroke-width="0.55"/>
<line x1="336.6" y1="163" x2="338.7" y2="163" stroke="#333" stroke-width="0.55"/>
<line x1="336.6" y1="178" x2="338.7" y2="178" stroke="#333" stroke-width="0.55"/>
<line x1="337.4" y1="156" x2="337.4" y2="161" stroke="#333" stroke-width="0.55"/>
<line x1="337.6" y1="166" x2="337.6" y2="175" stroke="#333" stroke-width="0.55"/>
<line x1="337.9" y1="170" x2="337.9" y2="173" stroke="#333" stroke-width="0.55"/>
<line x1="337.6" y1="179.5" x2="338.7" y2="179.5" stroke="#333" stroke-width="0.55"/>
<defs><linearGradient id="cb" x1="0" y1="0" x2="0" y2="1"><stop offset="0" stop-color="#961628"/><stop offset="0.14" stop-color="#c8403e"/><stop offset="0.28" stop-color="#ee907a"/><stop offset="0.36" stop-color="#f8c8bc"/><stop offset="0.43" stop-color="#f8e6e4"/><stop offset="0.55" stop-color="#f4f4f6"/><stop offset="0.71" stop-color="#c6dbeb"/><stop offset="0.85" stop-color="#5a98c8"/><stop offset="0.98" stop-color="#2a5a98"/><stop offset="1" stop-color="#24508c"/></linearGradient></defs>
<rect x="490.9" y="92.8" width="4.2" height="64" fill="url(#cb)"/>
<line x1="495.1" y1="101.9" x2="496" y2="101.9" stroke="#777" stroke-width="0.3"/>
<text x="497" y="103.5" font-size="4.4" font-weight="normal" font-style="normal" fill="#333" text-anchor="start" >6</text>
<line x1="495.1" y1="111.1" x2="496" y2="111.1" stroke="#777" stroke-width="0.3"/>
<text x="497" y="112.69999999999999" font-size="4.4" font-weight="normal" font-style="normal" fill="#333" text-anchor="start" >4</text>
<line x1="495.1" y1="119.8" x2="496" y2="119.8" stroke="#777" stroke-width="0.3"/>
<text x="497" y="121.39999999999999" font-size="4.4" font-weight="normal" font-style="normal" fill="#333" text-anchor="start" >2</text>
<line x1="495.1" y1="129.1" x2="496" y2="129.1" stroke="#777" stroke-width="0.3"/>
<text x="497" y="130.7" font-size="4.4" font-weight="normal" font-style="normal" fill="#333" text-anchor="start" >0</text>
<line x1="495.1" y1="138.1" x2="496" y2="138.1" stroke="#777" stroke-width="0.3"/>
<text x="497" y="139.7" font-size="4.4" font-weight="normal" font-style="normal" fill="#333" text-anchor="start" >−2</text>
<line x1="495.1" y1="146.8" x2="496" y2="146.8" stroke="#777" stroke-width="0.3"/>
<text x="497" y="148.4" font-size="4.4" font-weight="normal" font-style="normal" fill="#333" text-anchor="start" >−4</text>
<line x1="495.1" y1="155.8" x2="496" y2="155.8" stroke="#777" stroke-width="0.3"/>
<text x="497" y="157.4" font-size="4.4" font-weight="normal" font-style="normal" fill="#333" text-anchor="start" >−6</text>
</svg>
</body></html>
